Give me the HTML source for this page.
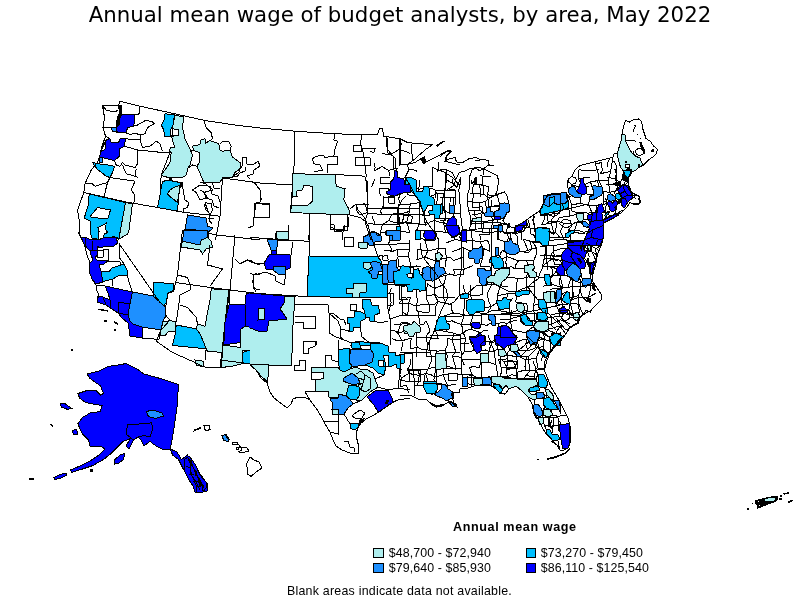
<!DOCTYPE html>
<html><head><meta charset="utf-8"><title>Annual mean wage of budget analysts, by area, May 2022</title>
<style>
html,body{margin:0;padding:0;background:#fff;}
body{width:800px;height:600px;position:relative;overflow:hidden;font-family:"Liberation Sans","DejaVu Sans",sans-serif;color:#000;}
#title{position:absolute;left:0;top:0.7px;width:800px;text-align:center;font-family:"DejaVu Sans","Liberation Sans",sans-serif;font-size:21.3px;line-height:28px;white-space:nowrap;}
#map{position:absolute;left:0;top:0;}
.lg{position:absolute;font-size:12.4px;line-height:14px;white-space:nowrap;letter-spacing:0.09px;margin-top:1px}
.sw{position:absolute;width:9px;height:8px;border:1px solid #000;}
#lt{position:absolute;left:453px;top:519.5px;letter-spacing:0.6px;font-size:12.6px;font-weight:bold;line-height:15px;white-space:nowrap;}
#note{position:absolute;left:287px;top:584px;letter-spacing:0.235px;font-size:12.4px;line-height:14px;white-space:nowrap;}
</style></head><body>
<div id="title">Annual mean wage of budget analysts, by area, May 2022</div>
<svg id="map" width="800" height="600" viewBox="0 0 800 600" shape-rendering="crispEdges" stroke-width="1" stroke-linejoin="miter">
<path fill="none" stroke="#000" d="M374.6,162.5 L375.1,167.5 L374.8,170.6 M374.8,170.6 L382.1,166.5 M374.7,179.2 L371.6,187.1 M381.6,153.2 L387.0,154.5 L392.5,153.5 M382.1,166.5 L388.6,170.5 M379.4,188.6 L390.6,189.1 M379.4,188.6 L380.3,195.9 M383.2,205.3 L380.9,210.5 L381.1,214.1 M382.3,224.5 L388.9,220.7 M382.3,224.5 L381.7,228.1 L380.0,232.3 M380.0,232.3 L392.0,231.6 M380.0,232.3 L380.7,239.8 M383.4,250.0 L389.0,250.1 L391.7,251.6 M384.1,267.7 L388.7,269.9 M392.5,153.5 L396.9,150.7 L398.9,149.7 M388.6,170.5 L393.9,168.9 L398.2,168.7 M388.6,170.5 L389.8,176.1 M390.6,189.1 L397.5,187.6 L402.5,187.2 M391.4,215.0 L395.4,213.2 L397.4,213.4 M391.4,215.0 L388.9,220.7 M388.9,220.7 L394.0,222.3 L399.9,223.0 M392.0,231.6 L395.1,232.5 L398.4,232.0 M392.0,231.6 L388.8,243.3 M388.8,243.3 L391.5,248.9 L391.7,251.6 M391.7,251.6 L397.9,249.5 M388.8,260.9 L390.1,264.1 L388.7,269.9 M388.7,269.9 L399.0,266.6 M388.7,269.9 L390.8,276.2 M391.3,288.2 L389.8,293.1 M389.8,293.1 L390.8,299.3 L391.1,302.6 M391.1,302.6 L389.0,311.2 M390.0,330.0 L394.7,330.8 L397.6,332.7 M392.3,338.9 L397.3,340.6 L402.0,340.7 M401.9,142.9 L398.9,149.7 M398.9,149.7 L405.9,151.5 L410.2,153.5 M402.5,187.2 L398.7,198.4 M398.7,198.4 L399.1,200.5 L399.0,204.3 M399.0,204.3 L410.3,204.0 M399.0,204.3 L397.4,209.1 L397.4,213.4 M397.4,213.4 L403.7,213.0 L409.4,211.5 M397.4,213.4 L399.6,218.1 L399.9,223.0 M399.9,223.0 L404.6,222.1 L406.7,221.8 M399.9,223.0 L398.4,228.2 L398.4,232.0 M398.4,232.0 L403.7,231.4 L409.9,233.0 M397.9,249.5 L409.1,249.8 M397.9,249.5 L397.7,253.8 L397.6,256.5 M397.6,256.5 L408.8,257.0 M397.6,256.5 L398.7,262.6 L399.0,266.6 M399.0,266.6 L405.7,266.1 L411.0,266.4 M400.4,277.2 L411.5,279.3 M400.4,277.2 L401.9,283.3 L401.3,286.8 M401.3,286.8 L406.5,285.8 M401.3,286.8 L401.1,297.0 M401.1,297.0 L406.9,298.1 L410.7,297.4 M401.1,297.0 L401.7,300.1 L399.4,303.1 M399.4,303.1 L405.5,303.8 L408.7,302.8 M402.5,311.2 L404.1,313.1 L407.5,315.3 M401.2,322.7 L407.5,322.4 M401.2,322.7 L397.6,332.7 M397.6,332.7 L407.1,331.1 M397.6,332.7 L402.0,340.7 M402.0,340.7 L411.4,338.1 M402.0,340.7 L402.1,346.7 L401.2,350.6 M400.0,368.7 L399.6,374.2 L401.6,377.7 M401.6,377.7 L408.9,373.5 M401.6,377.7 L400.2,381.9 L400.4,387.0 M400.4,387.0 L406.4,385.0 M408.9,170.0 L414.0,169.9 L417.3,171.4 M410.4,178.6 L409.7,184.8 M409.7,184.8 L415.5,188.2 L418.7,189.1 M409.7,184.8 L408.8,189.6 L407.2,194.7 M407.2,194.7 L414.2,195.9 L420.3,196.3 M410.3,204.0 L419.1,202.7 M410.3,204.0 L409.4,209.2 L409.4,211.5 M409.4,211.5 L406.7,221.8 M406.7,221.8 L413.8,223.9 L419.3,223.8 M406.7,221.8 L409.9,233.0 M409.9,239.9 L409.1,249.8 M409.1,249.8 L408.8,257.0 M408.8,257.0 L411.0,266.4 M411.0,266.4 L416.5,266.0 L420.5,266.8 M411.0,266.4 L412.7,273.3 L411.5,279.3 M411.5,279.3 L418.8,276.0 M411.5,279.3 L406.5,285.8 M406.5,285.8 L418.3,285.5 M410.7,297.4 L408.7,302.8 M408.7,302.8 L411.5,304.5 L416.5,306.1 M408.7,302.8 L408.8,308.1 L407.5,315.3 M407.5,322.4 L407.1,331.1 M407.1,331.1 L411.9,331.5 L417.7,329.1 M411.4,338.1 L410.3,343.2 L410.7,349.0 M410.7,349.0 L417.2,346.9 M411.0,359.1 L410.3,364.5 L407.6,369.1 M407.6,369.1 L411.9,369.8 L418.4,369.0 M407.6,369.1 L408.9,373.5 M408.9,373.5 L419.3,375.5 M406.4,385.0 L408.7,393.0 M420.0,179.6 L418.7,189.1 M418.7,189.1 L429.3,188.2 M418.7,189.1 L419.0,191.4 L420.3,196.3 M420.3,196.3 L427.8,197.4 M420.3,196.3 L419.1,202.7 M419.1,202.7 L423.2,203.3 L426.8,205.3 M419.1,202.7 L419.2,213.7 M419.2,213.7 L422.4,215.4 L424.6,215.5 M419.2,213.7 L419.3,223.8 M419.3,223.8 L425.6,225.2 M419.3,223.8 L416.9,229.7 M416.9,229.7 L422.9,230.9 L427.8,231.0 M416.9,229.7 L417.3,234.7 L420.2,239.1 M420.2,239.1 L421.8,238.6 L425.1,239.7 M417.9,249.2 L427.7,251.0 M417.9,249.2 L418.0,253.4 L416.9,260.2 M416.9,260.2 L419.5,258.9 L425.0,256.8 M418.8,276.0 L426.4,275.6 M418.8,276.0 L419.5,279.5 L418.3,285.5 M418.3,285.5 L416.8,289.6 L416.3,293.2 M416.3,293.2 L417.4,300.6 L416.5,306.1 M416.5,306.1 L423.8,304.0 L429.4,304.8 M416.5,306.1 L415.9,309.2 L418.0,311.5 M418.0,311.5 L429.0,312.9 M418.0,311.5 L420.1,324.6 M420.1,324.6 L424.0,324.1 L425.6,320.7 M420.1,324.6 L417.7,329.1 M417.7,329.1 L417.0,332.4 L416.4,337.9 M416.4,337.9 L426.0,337.5 M416.4,337.9 L416.3,341.4 L417.2,346.9 M417.2,346.9 L421.2,349.1 L427.0,349.9 M417.2,346.9 L416.0,352.4 L416.6,356.7 M418.4,369.0 L427.9,369.2 M418.4,369.0 L419.3,375.5 M419.3,375.5 L425.6,373.6 M419.3,375.5 L417.6,385.1 M429.3,188.2 L434.4,189.3 M429.3,188.2 L427.8,197.4 M427.8,197.4 L437.3,193.6 M427.8,197.4 L426.8,205.3 M426.8,205.3 L430.4,204.0 L436.9,204.4 M426.8,205.3 L424.2,211.4 L424.6,215.5 M424.6,215.5 L428.6,215.5 L435.3,213.1 M424.6,215.5 L424.6,220.7 L425.6,225.2 M425.6,225.2 L430.4,221.9 L434.3,220.4 M427.8,231.0 L430.1,231.4 L434.9,231.2 M425.1,239.7 L427.7,251.0 M427.7,251.0 L438.4,248.5 M427.7,251.0 L427.0,252.6 L425.0,256.8 M425.0,256.8 L430.6,259.4 L435.3,260.7 M427.1,268.4 L437.7,267.6 M427.1,268.4 L428.0,272.3 L426.4,275.6 M427.5,283.5 L431.1,286.7 L435.3,288.2 M427.5,283.5 L426.0,294.8 M426.0,294.8 L429.0,296.0 L434.4,294.3 M426.0,294.8 L426.3,299.0 L429.4,304.8 M429.4,304.8 L434.2,304.4 L438.1,301.6 M429.4,304.8 L429.0,312.9 M425.6,320.7 L428.9,327.0 L429.4,332.1 M429.4,332.1 L427.7,333.6 L426.0,337.5 M426.0,337.5 L438.2,338.7 M426.0,337.5 L427.5,343.9 L427.0,349.9 M427.0,349.9 L437.3,351.1 M427.0,349.9 L426.6,356.7 M426.6,356.7 L429.5,356.9 L435.2,356.8 M427.9,369.2 L433.9,367.0 L438.4,367.6 M427.9,369.2 L425.6,373.6 M425.6,373.6 L430.6,374.5 L434.8,377.1 M425.6,373.6 L427.3,379.2 L426.2,384.6 M427.9,392.4 L433.4,395.3 M438.1,162.0 L438.8,165.8 L437.2,171.6 M437.2,171.6 L440.5,169.7 L442.6,169.3 M434.4,189.3 L437.3,193.6 M437.3,193.6 L443.8,193.8 M437.3,193.6 L436.9,204.4 M436.9,204.4 L442.9,205.0 M435.3,213.1 L434.0,217.9 L434.3,220.4 M434.3,220.4 L439.8,222.3 L443.6,222.6 M434.3,220.4 L434.9,231.2 M434.9,231.2 L441.2,231.5 L445.6,232.9 M434.9,231.2 L436.7,236.5 L438.4,239.0 M438.4,239.0 L438.4,248.5 M438.4,248.5 L445.9,248.0 M438.4,248.5 L435.3,260.7 M435.3,260.7 L446.8,257.9 M433.7,276.9 L439.2,276.8 L446.2,275.4 M433.7,276.9 L434.3,283.1 L435.3,288.2 M435.3,288.2 L443.7,284.7 M435.3,288.2 L434.1,289.8 L434.4,294.3 M434.4,294.3 L438.1,297.0 L443.2,297.0 M434.4,294.3 L438.1,301.6 M438.1,301.6 L445.4,303.1 M438.1,301.6 L435.5,306.8 L435.5,314.6 M433.6,328.7 L446.6,331.8 M433.6,328.7 L436.7,332.8 L438.2,338.7 M437.3,351.1 L444.9,350.7 M437.3,351.1 L435.2,356.8 M435.2,356.8 L437.8,360.8 L438.4,367.6 M438.4,367.6 L441.6,367.7 L442.6,365.9 M438.4,367.6 L435.1,371.4 L434.8,377.1 M434.8,377.1 L439.4,376.0 L443.0,374.4 M434.8,377.1 L433.8,379.3 L435.0,383.8 M435.0,383.8 L441.7,384.8 L447.5,385.4 M447.0,189.5 L453.5,185.9 M443.8,193.8 L442.5,199.2 L442.9,205.0 M446.1,213.7 L443.6,222.6 M443.6,222.6 L448.9,224.8 L455.9,225.6 M443.6,222.6 L445.6,232.9 M445.6,232.9 L453.3,230.4 M446.3,242.8 L455.2,239.5 M445.9,248.0 L445.1,252.3 L446.8,257.9 M446.8,257.9 L450.9,258.0 L453.6,260.7 M446.8,257.9 L445.2,263.1 L445.3,267.3 M446.2,275.4 L449.1,273.9 L453.8,275.2 M446.2,275.4 L443.7,284.7 M443.7,284.7 L443.2,297.0 M443.2,297.0 L449.0,297.4 L454.7,297.1 M443.2,297.0 L445.2,301.4 L445.4,303.1 M445.4,303.1 L451.9,304.6 M444.5,315.6 L448.1,314.6 L453.3,313.0 M444.5,315.6 L443.9,316.7 L445.0,320.6 M445.0,320.6 L447.7,321.5 L452.2,320.9 M445.0,320.6 L446.6,331.8 M446.6,331.8 L454.1,333.2 M447.6,337.9 L449.7,339.0 L452.0,340.0 M447.6,337.9 L447.7,344.7 L444.9,350.7 M444.9,350.7 L447.3,355.3 L446.8,360.2 M446.8,360.2 L444.4,362.6 L442.6,365.9 M442.6,365.9 L449.1,366.7 L456.3,369.5 M442.6,365.9 L443.1,369.4 L443.0,374.4 M443.0,374.4 L453.9,373.7 M443.0,374.4 L444.5,378.8 L447.5,385.4 M447.5,385.4 L450.7,385.0 L456.2,384.4 M447.5,385.4 L447.2,393.3 M452.3,179.0 L453.5,185.9 M453.0,198.4 L453.6,201.1 L453.0,205.3 M453.3,213.6 L455.3,219.9 L455.9,225.6 M455.9,225.6 L453.3,230.4 M453.3,230.4 L455.2,239.5 M455.2,239.5 L460.9,240.7 M451.4,252.1 L463.1,247.6 M453.6,260.7 L463.7,256.8 M453.5,270.0 L464.2,269.4 M453.5,270.0 L454.4,272.2 L453.8,275.2 M453.8,275.2 L463.1,274.7 M451.9,304.6 L451.3,309.1 L453.3,313.0 M453.3,313.0 L464.2,314.6 M452.2,320.9 L455.8,322.6 L461.4,324.5 M454.1,333.2 L458.1,334.7 L463.0,333.4 M454.1,333.2 L452.0,340.0 M452.0,340.0 L465.2,338.3 M452.0,340.0 L455.6,351.4 M455.6,351.4 L453.3,354.7 L452.4,356.1 M452.4,356.1 L460.7,357.2 M452.4,356.1 L456.3,369.5 M453.9,373.7 L465.1,374.8 M461.1,231.6 L469.6,230.2 M461.1,231.6 L459.8,236.7 L460.9,240.7 M460.9,240.7 L465.8,240.9 L472.6,240.6 M463.1,247.6 L466.8,249.6 L472.1,252.1 M463.1,247.6 L463.7,256.8 M463.7,256.8 L463.3,263.6 L464.2,269.4 M464.2,269.4 L472.8,265.5 M464.2,269.4 L463.1,272.6 L463.1,274.7 M463.0,285.4 L465.3,293.1 M465.3,293.1 L470.6,295.4 M465.3,293.1 L464.5,300.5 L464.9,306.6 M464.9,306.6 L463.2,310.7 L464.2,314.6 M464.2,314.6 L461.4,324.5 M461.4,324.5 L464.6,324.4 L470.1,324.3 M461.4,324.5 L462.8,329.0 L463.0,333.4 M463.0,333.4 L465.5,330.9 L470.7,329.2 M463.0,333.4 L464.6,335.0 L465.2,338.3 M465.2,338.3 L464.5,351.2 M464.5,351.2 L469.1,352.1 L473.9,350.5 M464.5,351.2 L460.7,357.2 M460.7,357.2 L464.3,365.2 M465.1,374.8 L472.3,375.2 M464.6,383.1 L472.8,384.7 M474.6,160.4 L482.3,159.8 M473.3,184.7 L479.6,184.6 M473.3,184.7 L472.5,191.1 L473.7,194.7 M473.7,194.7 L472.4,200.4 L472.7,207.5 M472.7,207.5 L482.0,206.8 M472.4,214.9 L476.3,214.6 L482.1,212.8 M471.0,220.4 L469.6,230.2 M469.6,230.2 L482.5,232.1 M472.6,240.6 L479.8,241.7 M472.6,240.6 L472.1,252.1 M472.1,252.1 L470.1,257.6 M470.0,285.3 L470.7,291.5 L470.6,295.4 M470.6,295.4 L478.0,295.7 L483.0,294.1 M470.6,295.4 L472.5,302.5 M472.5,302.5 L479.6,306.1 M472.6,312.9 L478.2,312.3 L481.7,314.0 M472.6,312.9 L472.3,318.1 L470.1,324.3 M470.1,324.3 L481.9,324.5 M470.1,324.3 L471.7,327.5 L470.7,329.2 M470.7,329.2 L480.8,332.8 M469.9,340.7 L482.0,341.9 M469.9,340.7 L472.8,346.4 L473.9,350.5 M473.9,350.5 L476.8,349.6 L480.7,350.2 M469.5,367.8 L473.2,366.4 L479.5,367.6 M469.5,367.8 L470.8,371.2 L472.3,375.2 M472.3,375.2 L478.8,378.1 M472.8,384.7 L479.2,382.5 M479.6,175.9 L491.3,176.5 M479.6,184.6 L489.1,186.6 M479.6,184.6 L480.5,192.2 L480.1,197.3 M482.0,206.8 L482.2,209.8 L482.1,212.8 M482.1,212.8 L487.1,214.4 L489.3,213.1 M482.1,212.8 L481.3,222.7 M481.3,222.7 L482.5,232.1 M482.5,232.1 L491.8,232.6 M479.8,241.7 L482.2,241.2 L487.6,240.5 M479.8,241.7 L483.4,248.5 M483.4,248.5 L489.7,251.4 M483.4,248.5 L483.0,256.5 M483.0,256.5 L479.8,266.6 M479.8,266.6 L490.2,266.5 M482.3,279.3 L482.3,285.1 M482.3,285.1 L485.5,284.2 L491.7,284.3 M482.3,285.1 L483.0,294.1 M479.6,306.1 L485.8,307.5 L491.4,306.5 M481.7,314.0 L487.4,313.0 M481.7,314.0 L481.9,324.5 M481.9,324.5 L486.9,325.3 L490.0,323.5 M480.8,332.8 L483.4,330.6 L488.4,331.0 M480.8,332.8 L482.0,341.9 M482.0,341.9 L480.7,350.2 M480.7,350.2 L485.5,350.0 L488.8,351.3 M481.4,357.0 L479.5,367.6 M489.1,186.6 L487.5,194.7 M487.5,194.7 L492.1,195.9 L497.4,195.0 M487.5,194.7 L488.9,206.1 M488.9,206.1 L495.8,206.6 L500.1,206.8 M488.9,206.1 L487.9,210.8 L489.3,213.1 M489.3,213.1 L492.7,212.6 L497.2,212.2 M489.3,213.1 L492.0,217.6 L492.4,223.0 M492.4,223.0 L497.7,222.1 M492.4,223.0 L491.6,227.5 L491.8,232.6 M491.8,232.6 L499.1,230.2 M487.6,240.5 L489.9,246.1 L489.7,251.4 M489.2,260.1 L493.6,259.3 L496.9,261.4 M490.2,266.5 L490.2,269.4 L491.9,274.9 M491.9,274.9 L491.7,284.3 M491.7,284.3 L500.2,285.7 M491.7,284.3 L487.4,293.5 M487.4,293.5 L488.5,300.7 L491.4,306.5 M491.4,306.5 L492.9,305.6 L497.0,302.5 M491.4,306.5 L487.4,313.0 M487.4,313.0 L491.6,310.6 L498.4,310.6 M490.0,323.5 L498.5,323.5 M489.2,341.7 L499.7,339.8 M489.2,341.7 L490.4,346.3 L488.8,351.3 M488.8,351.3 L492.1,351.8 L497.1,349.5 M488.8,351.3 L488.9,356.5 M488.0,376.7 L493.8,377.5 L499.4,377.3 M497.4,195.0 L500.1,206.8 M500.1,206.8 L499.0,208.5 L497.2,212.2 M497.2,212.2 L498.7,215.9 L497.7,222.1 M497.7,222.1 L507.5,225.3 M499.1,230.2 L506.5,233.0 M499.1,230.2 L498.1,239.4 M498.1,239.4 L507.4,242.4 M501.5,251.2 L503.1,250.7 L506.0,252.5 M501.5,251.2 L499.9,255.6 L496.9,261.4 M496.9,261.4 L507.2,256.7 M496.9,267.4 L506.8,267.5 M501.5,278.5 L503.1,278.8 L505.5,276.6 M501.5,278.5 L500.2,285.7 M500.2,285.7 L507.6,287.0 M500.2,285.7 L497.4,295.7 M497.4,295.7 L507.2,293.8 M497.4,295.7 L497.0,302.5 M497.0,302.5 L502.5,302.8 L506.6,305.3 M497.0,302.5 L499.2,306.6 L498.4,310.6 M498.4,310.6 L504.8,311.5 L510.3,313.1 M498.5,323.5 L502.4,322.3 L506.5,323.6 M498.5,323.5 L500.0,331.0 M500.0,331.0 L500.5,336.1 L499.7,339.8 M499.7,339.8 L497.3,345.6 L497.1,349.5 M498.5,359.3 L502.2,360.1 L507.8,358.3 M498.5,359.3 L501.1,366.6 M501.1,366.6 L501.5,372.3 L499.4,377.3 M499.4,377.3 L507.2,376.7 M499.4,377.3 L498.6,383.6 M498.6,383.6 L502.9,386.4 L509.7,386.6 M507.5,225.3 L506.5,233.0 M506.5,233.0 L511.2,232.9 L515.3,234.0 M506.5,233.0 L508.4,236.4 L507.4,242.4 M507.4,242.4 L506.8,246.3 L506.0,252.5 M506.0,252.5 L517.9,252.0 M506.0,252.5 L507.2,256.7 M507.2,256.7 L518.5,260.8 M507.2,256.7 L505.7,261.9 L506.8,267.5 M506.8,267.5 L511.3,266.8 L515.4,269.0 M506.8,267.5 L505.5,276.6 M505.5,276.6 L517.2,278.3 M507.2,293.8 L513.6,293.1 L517.3,293.8 M507.2,293.8 L506.6,305.3 M506.6,305.3 L509.0,307.9 L510.3,313.1 M510.3,313.1 L517.0,310.7 M506.5,323.6 L510.6,321.5 L516.8,320.2 M506.5,323.6 L507.4,329.5 M507.4,329.5 L517.0,331.0 M507.4,329.5 L506.1,341.4 M506.1,341.4 L509.6,349.7 M509.6,349.7 L507.6,353.0 L507.8,358.3 M507.8,358.3 L506.6,369.4 M506.6,369.4 L507.2,376.7 M507.2,376.7 L511.9,374.7 L516.3,375.6 M509.7,386.6 L515.3,383.9 L519.4,382.8 M515.3,234.0 L520.0,232.3 L523.7,231.0 M515.3,234.0 L517.6,236.8 L517.6,242.5 M517.6,242.5 L516.5,247.8 L517.9,252.0 M517.9,252.0 L522.3,251.8 L528.2,250.6 M518.5,260.8 L526.8,260.5 M518.5,260.8 L515.7,265.0 L515.4,269.0 M515.4,269.0 L528.1,268.6 M517.2,278.3 L521.0,278.5 L526.6,277.7 M517.2,278.3 L516.7,288.0 M516.7,288.0 L517.3,293.8 M517.3,293.8 L522.1,292.5 L526.9,293.5 M517.3,293.8 L515.6,302.1 M515.6,302.1 L526.9,303.8 M517.0,310.7 L527.4,310.9 M517.0,331.0 L527.4,333.2 M517.2,341.9 L522.6,339.9 L526.8,339.3 M517.2,341.9 L514.3,345.1 L514.4,350.8 M514.4,350.8 L527.7,350.5 M514.4,350.8 L516.8,355.2 L516.8,358.3 M516.8,358.3 L517.9,368.8 M516.3,375.6 L519.4,382.8 M528.0,223.2 L523.7,231.0 M523.4,239.4 L532.5,241.8 M523.4,239.4 L528.2,250.6 M528.2,250.6 L531.1,248.8 L536.7,247.8 M526.8,260.5 L534.0,260.2 M526.8,260.5 L528.1,268.6 M528.1,268.6 L530.2,268.1 L533.3,269.9 M528.1,268.6 L526.6,277.7 M526.6,277.7 L530.1,276.1 L534.9,274.7 M526.6,277.7 L527.0,286.5 M527.0,286.5 L534.3,286.4 M527.0,286.5 L526.4,291.4 L526.9,293.5 M526.9,303.8 L527.4,310.9 M527.4,310.9 L524.3,319.6 M524.3,319.6 L530.8,320.2 L535.7,321.6 M527.4,333.2 L530.6,333.1 L534.4,332.5 M526.8,339.3 L525.8,344.5 L527.7,350.5 M527.7,350.5 L532.1,349.6 L535.3,347.9 M526.3,356.7 L525.0,366.6 M525.1,375.6 L534.1,376.6 M526.7,387.3 L537.5,386.7 M534.8,216.2 L532.8,219.6 L533.7,225.4 M536.1,229.5 L545.4,230.6 M532.5,241.8 L544.4,243.1 M532.5,241.8 L534.6,244.8 L536.7,247.8 M536.7,247.8 L536.5,253.6 L534.0,260.2 M534.0,260.2 L533.3,269.9 M534.9,274.7 L537.5,276.8 L542.3,278.0 M534.9,274.7 L534.1,281.6 L534.3,286.4 M534.3,286.4 L534.7,295.9 M534.7,295.9 L534.4,301.2 L533.2,305.5 M533.2,305.5 L536.9,304.5 L542.2,301.6 M533.2,305.5 L534.3,313.8 M534.3,313.8 L534.1,319.0 L535.7,321.6 M535.7,321.6 L542.0,322.7 M535.7,321.6 L534.1,326.0 L534.4,332.5 M534.4,332.5 L545.5,329.2 M537.3,341.5 L541.2,339.4 L544.5,339.2 M537.3,341.5 L536.5,343.6 L535.3,347.9 M535.3,347.9 L544.1,346.5 M532.7,360.5 L536.1,368.7 M536.1,368.7 L534.1,376.6 M534.1,376.6 L537.5,386.7 M537.5,386.7 L545.5,384.6 M535.5,393.0 L546.3,395.4 M535.5,393.0 L534.6,405.0 M542.7,206.3 L549.9,207.1 L554.5,206.1 M542.7,206.3 L542.9,211.3 L545.5,213.8 M545.5,213.8 L553.8,216.5 M545.5,213.8 L544.3,219.1 L541.9,224.6 M541.9,224.6 L545.4,224.2 L550.7,221.2 M545.4,230.6 L554.3,234.3 M544.4,243.1 L548.3,240.7 L553.9,240.0 M544.4,243.1 L545.2,246.6 L546.0,250.1 M546.0,250.1 L543.9,259.5 M543.9,259.5 L546.5,258.3 L550.9,258.1 M543.9,259.5 L542.4,266.4 M542.4,266.4 L551.7,266.0 M542.3,278.0 L547.6,277.5 L552.9,275.3 M543.3,286.3 L548.4,284.0 L551.6,284.1 M543.5,295.1 L548.3,294.0 L553.9,292.5 M542.2,301.6 L549.0,301.3 L554.1,302.4 M542.2,301.6 L546.6,312.3 M546.6,312.3 L550.6,315.2 M542.0,322.7 L547.8,324.3 L551.5,324.3 M542.0,322.7 L545.5,329.2 M545.5,329.2 L554.9,333.0 M545.5,329.2 L543.8,333.9 L544.5,339.2 M544.5,339.2 L547.0,340.6 L551.1,339.7 M544.5,339.2 L543.4,343.1 L544.1,346.5 M544.1,346.5 L541.6,360.6 M545.5,384.6 L546.3,395.4 M546.3,395.4 L549.8,393.0 L551.6,391.7 M546.3,395.4 L546.2,400.8 L545.7,405.4 M545.7,405.4 L544.6,408.1 L542.7,409.6 M542.7,409.6 L542.4,419.3 M554.5,206.1 L563.6,204.2 M554.5,206.1 L554.9,212.3 L553.8,216.5 M553.8,216.5 L556.7,215.1 L560.1,211.4 M553.8,216.5 L550.7,221.2 M550.7,221.2 L557.4,221.4 L563.7,223.1 M550.7,221.2 L554.3,234.3 M553.9,240.0 L564.1,239.5 M553.5,251.3 L562.4,248.1 M553.5,251.3 L551.1,254.1 L550.9,258.1 M550.9,258.1 L560.3,260.4 M551.7,266.0 L563.1,266.4 M551.7,266.0 L552.1,270.1 L552.9,275.3 M552.9,275.3 L555.2,275.6 L559.8,274.9 M551.6,284.1 L557.2,286.0 L562.6,286.0 M553.9,292.5 L558.7,291.5 L560.8,293.5 M553.9,292.5 L553.1,297.1 L554.1,302.4 M554.1,302.4 L557.2,303.8 L562.6,305.1 M550.6,315.2 L556.9,313.5 L563.6,313.4 M550.6,315.2 L551.5,320.7 L551.5,324.3 M551.5,324.3 L560.5,319.7 M551.1,339.7 L550.8,346.3 L550.9,351.2 M551.6,391.7 L553.1,398.1 L554.1,403.3 M554.1,403.3 L552.0,409.3 L551.2,413.9 M551.8,420.5 L550.5,423.8 L551.2,428.8 M563.6,204.2 L562.8,207.8 L560.1,211.4 M563.7,223.1 L572.9,224.1 M563.7,223.1 L561.8,228.6 L560.4,231.7 M560.4,231.7 L564.1,239.5 M564.1,239.5 L571.0,241.0 M562.4,248.1 L569.9,248.0 M560.3,260.4 L570.5,257.1 M560.3,260.4 L563.1,266.4 M563.1,266.4 L560.7,271.0 L559.8,274.9 M559.8,274.9 L562.6,286.0 M562.6,286.0 L561.6,290.2 L560.8,293.5 M560.8,293.5 L565.8,296.8 L572.7,297.3 M560.8,293.5 L561.3,299.9 L562.6,305.1 M562.6,305.1 L570.4,303.6 M562.6,305.1 L563.6,313.4 M563.6,313.4 L569.5,314.7 L572.8,313.1 M563.6,313.4 L560.5,319.7 M560.5,319.7 L570.5,324.3 M559.4,421.1 L561.6,425.1 L561.7,430.1 M561.7,430.1 L564.4,428.8 L568.5,428.1 M572.0,185.4 L582.4,187.1 M572.0,185.4 L568.5,196.5 M568.5,196.5 L573.8,195.5 L578.8,195.8 M568.5,196.5 L570.6,201.0 L571.4,205.1 M571.4,205.1 L580.2,203.2 M571.4,205.1 L572.1,211.9 M572.1,211.9 L578.0,212.1 M572.9,224.1 L574.7,222.8 L578.9,222.5 M572.9,224.1 L568.6,230.0 M568.6,230.0 L578.9,230.7 M568.6,230.0 L571.0,241.0 M571.0,241.0 L575.2,240.6 L577.9,241.2 M569.9,248.0 L581.8,250.6 M570.5,257.1 L580.4,259.8 M571.5,269.9 L571.7,275.1 L569.2,277.4 M569.2,277.4 L579.8,277.2 M569.2,277.4 L572.1,279.8 L572.3,284.3 M572.3,284.3 L572.4,290.5 L572.7,297.3 M572.7,297.3 L576.9,296.3 L579.0,293.7 M572.7,297.3 L571.0,300.4 L570.4,303.6 M570.4,303.6 L578.6,304.1 M570.4,303.6 L571.9,309.8 L572.8,313.1 M579.0,169.8 L590.5,170.9 M579.0,169.8 L578.4,174.3 L578.0,178.5 M578.0,178.5 L589.6,177.4 M578.0,178.5 L580.6,182.9 L582.4,187.1 M582.4,187.1 L588.8,186.8 M578.8,195.8 L580.4,198.1 L580.2,203.2 M580.2,203.2 L588.4,205.3 M578.0,212.1 L583.8,212.7 L588.4,213.1 M578.0,212.1 L578.7,218.7 L578.9,222.5 M578.9,222.5 L590.5,224.8 M578.9,230.7 L583.5,232.1 L589.0,231.7 M577.9,241.2 L587.4,240.0 M577.9,241.2 L579.1,245.9 L581.8,250.6 M581.8,250.6 L585.5,250.2 L587.2,250.4 M581.8,250.6 L580.4,259.8 M579.8,277.2 L580.6,285.8 M580.6,285.8 L579.0,293.7 M579.0,293.7 L578.6,304.1 M578.6,304.1 L579.4,313.4 M590.5,170.9 L598.7,169.5 M590.2,194.9 L597.5,197.5 M590.2,194.9 L588.4,205.3 M588.4,205.3 L592.4,205.0 L597.0,206.0 M588.4,213.1 L591.4,212.4 L595.4,213.0 M588.4,213.1 L590.5,224.8 M590.5,224.8 L596.4,225.5 L599.8,223.4 M590.5,224.8 L589.0,231.7 M589.0,231.7 L593.2,229.9 L598.9,230.4 M589.0,231.7 L587.4,240.0 M587.4,240.0 L587.2,250.4 M587.2,250.4 L589.4,256.9 M591.2,267.1 L590.8,278.8 M590.8,278.8 L591.1,281.0 L591.4,284.5 M591.4,284.5 L588.6,297.1 M588.6,297.1 L595.9,293.3 M588.6,297.1 L586.5,301.6 M597.2,180.6 L598.7,184.6 M598.7,184.6 L598.2,191.2 L597.5,197.5 M597.0,206.0 L606.2,203.7 M597.0,206.0 L595.4,213.0 M595.4,213.0 L599.1,213.1 L605.4,212.9 M595.4,213.0 L596.2,218.2 L599.8,223.4 M599.8,223.4 L598.9,230.4 M598.9,230.4 L597.5,234.9 L598.0,241.3 M609.5,158.9 L607.8,162.5 L607.3,167.0 M607.2,177.4 L615.5,178.8 M606.5,184.7 L612.5,184.2 L617.0,185.7 M605.0,197.7 L606.8,202.0 L606.2,203.7 M606.2,203.7 L605.4,212.9 M605.4,212.9 L611.0,215.9 L614.0,216.1 M613.6,160.9 L616.6,165.8 L616.9,168.2 M616.9,168.2 L615.5,178.8 M615.5,178.8 L617.0,185.7 M617.0,185.7 L623.6,185.7 M617.8,195.2 L622.3,196.1 L625.1,195.7 M616.7,203.3 L622.7,202.4 L627.3,204.2 M616.7,203.3 L616.2,209.7 L614.0,216.1 M625.2,140.7 L629.0,140.4 L635.7,141.1 M624.5,158.4 L625.4,163.4 L624.0,167.1 M624.0,167.1 L625.7,172.1 L626.1,178.9 M626.1,178.9 L623.6,185.7 M625.1,195.7 L636.1,198.3 M625.1,195.7 L625.3,198.8 L627.3,204.2 M635.7,125.3 L633.1,131.4 M633.3,151.3 L633.3,161.7"/>
<polygon fill="#000000" stroke="none" points="118.0,105.0 122.0,104.5 122.5,115.0 119.5,125.0 115.5,126.2 117.0,117.5 119.0,112.5"/>
<polygon fill="#0000FF" stroke="#000" points="121.2,115.0 135.0,114.5 133.8,126.2 127.5,127.5 126.2,133.0 117.0,132.5 116.2,127.5 120.0,123.8 119.0,119.5"/>
<polygon fill="#1E90FF" stroke="#000" points="111.2,127.5 116.2,127.5 117.0,131.5 112.5,131.5"/>
<polygon fill="#0000FF" stroke="#000" points="106.2,139.5 110.0,138.8 111.2,142.5 118.8,142.0 120.0,138.8 125.5,138.8 124.5,146.2 119.5,148.8 119.5,156.2 114.5,160.5 99.5,157.0 101.2,151.2 105.0,149.5"/>
<polygon fill="#1E90FF" stroke="#000" points="99.5,157.0 103.0,157.5 102.5,162.5 99.0,162.0"/>
<polygon fill="#00BFFF" stroke="#000" points="92.5,162.5 100.0,163.8 102.0,165.0 105.0,164.5 114.5,166.2 112.5,172.5 110.0,177.5 106.2,176.2 97.5,169.5 95.0,166.2"/>
<polygon fill="#00BFFF" stroke="#000" points="165.0,113.8 174.5,115.0 173.0,125.0 170.5,130.0 170.0,136.8 164.5,136.2 163.8,130.0 161.2,125.0 163.8,121.2"/>
<polygon fill="#AFEEEE" stroke="#000" points="175.0,115.0 183.8,117.0 182.5,127.5 185.0,138.8 190.0,148.8 192.5,155.5 190.0,165.0 188.0,168.0 186.2,175.0 182.5,177.5 170.0,178.0 161.2,175.5 170.0,162.5 171.2,152.5 169.2,151.2 170.5,148.0 174.5,147.0 171.8,137.5 173.0,125.0"/>
<polygon fill="#FFFFFF" stroke="#000" points="172.5,128.8 178.0,129.5 178.8,135.0 172.5,136.2"/>
<polygon fill="#AFEEEE" stroke="#000" points="192.5,146.2 200.0,144.5 201.2,139.5 205.0,138.8 205.8,143.0 210.0,140.5 218.8,143.8 220.0,150.0 222.5,151.2 230.0,150.0 232.5,157.0 240.0,162.5 241.2,168.0 235.0,172.5 232.5,177.5 222.5,178.0 220.0,182.0 203.8,182.5 201.2,176.2 197.0,166.2 200.0,161.2 199.5,152.5 193.8,150.5"/>
<polygon fill="#00BFFF" stroke="#000" points="162.5,181.2 170.0,180.5 177.5,182.0 182.5,183.0 182.0,186.2 179.5,188.0 177.5,211.2 157.5,207.5 160.0,195.0"/>
<polygon fill="#AFEEEE" stroke="#000" points="175.0,187.0 180.0,185.5 178.8,195.0 177.5,202.5 171.2,197.5 167.5,193.8 170.0,190.0"/>
<polygon fill="#000000" stroke="none" points="169.0,177.5 171.5,177.0 172.0,180.5 169.5,181.0"/>
<polygon fill="#000000" stroke="none" points="179.5,182.0 182.5,181.5 183.0,186.5 180.5,187.0"/>
<polygon fill="#00BFFF" stroke="#000" points="89.2,193.8 125.5,202.5 118.8,239.2 117.5,238.0 113.8,236.8 107.5,237.5 101.2,240.0 97.5,239.2 91.8,238.0 90.0,231.2 90.5,221.2 84.2,218.0 88.0,206.2"/>
<polygon fill="#FFFFFF" stroke="#000" points="90.0,216.8 97.5,207.5 110.5,210.0 108.0,218.0 101.2,218.5"/>
<polygon fill="#FFFFFF" stroke="#000" points="98.0,227.5 102.5,225.5 106.2,223.0 105.5,228.8 107.5,232.5 104.2,234.2 103.0,239.2 98.8,240.0 98.0,233.8 99.2,231.2"/>
<polygon fill="#AFEEEE" stroke="#000" points="125.5,202.5 132.5,203.8 128.8,231.2 127.5,234.2 118.8,239.2"/>
<polygon fill="#1E90FF" stroke="#000" points="187.5,215.0 206.2,218.0 207.5,226.2 213.0,228.0 208.0,232.5 208.0,240.0 183.8,240.0 185.0,230.0"/>
<polygon fill="#000000" stroke="none" points="435.8,145.5 443.2,140.5 444.5,141.5 437.0,147.0"/>
<polygon fill="#000000" stroke="none" points="420.0,158.8 425.0,156.2 426.0,162.5 423.8,164.5"/>
<polygon fill="#AFEEEE" stroke="#000" points="292.5,173.8 335.0,174.5 336.2,186.2 345.0,188.8 343.8,200.0 348.8,208.8 350.0,215.0 290.5,212.5 291.5,205.5 307.5,205.5 312.5,201.2 312.0,186.2 303.8,185.5 302.5,190.0 296.2,191.2 297.0,196.2 292.5,197.0"/>
<polygon fill="#0000FF" stroke="#000" points="395.0,170.5 397.0,171.2 397.5,177.5 403.8,178.8 405.0,184.5 410.0,185.0 410.0,192.5 404.5,192.5 400.0,193.8 395.0,196.2 387.5,194.5 386.2,192.0 390.0,190.0 390.0,182.5 393.8,178.8"/>
<polygon fill="#00BFFF" stroke="#000" points="406.2,178.0 411.2,177.5 416.2,180.0 416.2,191.2 422.5,192.0 423.8,186.2 428.8,186.2 430.0,196.2 433.8,197.5 435.0,205.0 442.5,203.8 443.8,210.0 440.0,215.0 439.5,218.8 435.0,218.8 434.5,215.0 430.0,214.5 428.0,211.2 432.5,210.0 432.5,205.5 428.0,205.0 426.2,208.8 423.8,212.5 421.2,207.5 420.0,201.2 415.0,195.0 411.2,191.2 410.0,185.0 405.0,183.8"/>
<polygon fill="#1E90FF" stroke="#000" points="449.5,205.0 454.5,205.0 454.5,213.8 449.5,213.8"/>
<polygon fill="#0000FF" stroke="#000" points="448.5,219.5 453.0,216.5 456.0,218.8 456.8,224.8 459.8,228.5 459.8,233.8 456.0,236.8 451.5,237.5 450.0,232.2 445.5,226.2"/>
<polygon fill="#0000FF" stroke="#000" points="426.2,232.5 431.2,230.5 436.2,233.8 435.0,240.0 425.0,240.0"/>
<polygon fill="#1E90FF" stroke="#000" points="385.0,231.2 395.0,230.5 397.5,235.0 396.2,240.0 390.0,240.0 388.8,235.0 385.0,234.5"/>
<polygon fill="#1E90FF" stroke="#000" points="367.5,235.0 372.5,231.2 376.2,232.5 380.0,235.0 380.0,240.0 363.8,240.0"/>
<polygon fill="#00BFFF" stroke="#000" points="396.2,226.2 399.5,226.2 399.5,230.0 396.2,230.0"/>
<polygon fill="#00BFFF" stroke="#000" points="416.2,230.0 420.0,230.0 418.8,237.5 415.5,237.5"/>
<polygon fill="#AFEEEE" stroke="#000" points="276.2,231.2 287.5,232.5 286.2,240.0 275.0,240.0"/>
<polygon fill="#000000" stroke="none" points="488.7,164.4 494.3,165.0 494.3,166.5 488.7,165.9"/>
<polygon fill="#000000" stroke="none" points="474.2,177.7 477.2,176.2 476.6,183.7 474.8,185.2 473.3,182.2"/>
<polygon fill="#000000" stroke="none" points="470.7,180.7 472.2,180.0 472.7,183.7 471.2,184.2"/>
<polygon fill="#000000" stroke="none" points="507.2,210.0 510.2,209.7 510.2,212.2 507.2,212.2"/>
<polygon fill="#000000" stroke="none" points="507.8,223.5 510.2,223.2 510.5,228.0 508.2,228.0"/>
<polygon fill="#1E90FF" stroke="#000" points="500.0,204.0 504.5,202.8 509.3,204.0 509.7,211.5 506.7,212.7 504.5,217.5 500.7,219.0 500.0,216.0 494.0,216.0 494.0,211.5 499.2,210.0"/>
<polygon fill="#1E90FF" stroke="#000" points="486.5,207.7 490.2,207.0 491.0,211.5 493.2,212.2 493.2,216.0 485.0,216.0 484.2,213.7 486.5,212.2"/>
<polygon fill="#0000FF" stroke="#000" points="494.3,216.0 500.0,216.0 500.0,219.3 494.3,219.3"/>
<polygon fill="#AFEEEE" stroke="#000" points="472.2,218.2 481.2,217.8 481.7,221.7 472.7,222.0"/>
<polygon fill="#1E90FF" stroke="#000" points="493.2,225.7 497.7,225.0 501.8,224.7 502.7,231.7 500.0,232.2 497.7,228.7 493.2,228.0"/>
<polygon fill="#0000FF" stroke="#000" points="514.7,227.2 521.0,223.5 526.2,220.5 527.0,225.0 521.7,227.2 521.0,231.7 515.0,232.2"/>
<polygon fill="#00BFFF" stroke="#000" points="537.5,228.0 540.5,227.2 542.7,229.5 546.8,228.7 545.7,235.5 549.5,237.0 548.7,240.0 535.2,240.0 534.8,235.5"/>
<polygon fill="#00BFFF" stroke="#000" points="539.0,211.5 543.5,205.5 547.2,207.7 551.0,206.2 560.0,204.7 560.0,209.2 548.7,212.2 542.0,215.2"/>
<polygon fill="#1E90FF" stroke="#000" points="544.2,196.5 548.0,194.7 554.0,193.5 560.0,193.8 560.0,204.7 551.0,206.2 547.2,207.7 545.0,204.7 545.7,201.0"/>
<polygon fill="#00BFFF" stroke="#000" points="550.2,195.7 555.5,195.0 556.2,202.5 560.0,204.3 560.0,195.0 557.0,194.7 551.7,197.7 551.0,204.0 550.2,201.0"/>
<polygon fill="#00BFFF" stroke="#000" points="440.0,204.0 442.2,204.7 442.7,213.0 440.0,213.7"/>
<polygon fill="#1E90FF" stroke="#000" points="449.7,205.5 454.2,205.2 454.2,213.0 449.3,213.7"/>
<polygon fill="#0000FF" stroke="#000" points="461.0,230.2 466.2,229.5 466.2,240.0 461.0,240.0"/>
<polygon fill="#AFEEEE" stroke="#000" points="622.0,134.0 625.0,134.7 625.7,141.5 629.5,149.0 631.7,152.7 636.2,156.5 640.0,158.0 641.5,162.5 643.0,164.7 638.5,167.7 636.2,170.0 632.5,171.5 631.0,169.2 628.0,168.5 626.5,170.0 623.5,171.5 620.5,167.0 618.2,159.5 617.5,152.7 619.0,147.5 621.2,140.0"/>
<polygon fill="#FFFFFF" stroke="#000" points="625.7,164.7 629.5,164.7 629.5,167.7 625.7,167.7"/>
<polygon fill="#00BFFF" stroke="#000" points="624.2,170.7 628.0,169.2 631.0,170.0 631.0,173.7 628.0,176.7 625.0,176.0 623.5,173.0"/>
<polygon fill="#FFFFFF" stroke="#000" points="635.5,150.5 638.5,148.2 643.0,149.7 643.7,153.5 640.0,155.7 636.2,154.2"/>
<polygon fill="#000000" stroke="none" points="639.4,142.2 641.8,141.8 642.7,146.0 644.8,149.3 645.4,153.8 643.3,154.4 642.4,150.2 640.6,147.5"/>
<polygon fill="#000000" stroke="none" points="637.7,164.7 640.0,163.7 640.6,166.7 638.5,167.6"/>
<polygon fill="#000000" stroke="none" points="625.0,161.0 626.8,160.7 627.1,162.8 625.3,163.1"/>
<polygon fill="#00BFFF" stroke="#000" points="550.0,194.7 559.0,195.2 559.0,200.0 550.0,200.0"/>
<polygon fill="#1E90FF" stroke="#000" points="559.0,195.5 566.5,194.0 567.2,200.0 559.0,200.0"/>
<polygon fill="#000000" stroke="none" points="614.5,169.7 616.9,170.0 616.9,173.0 614.8,172.7"/>
<polygon fill="#000000" stroke="none" points="613.0,183.2 620.5,182.9 620.5,185.0 613.0,185.0"/>
<polygon fill="#000000" stroke="none" points="621.7,173.7 624.4,174.5 625.0,180.5 622.6,180.5"/>
<polygon fill="#000000" stroke="none" points="634.0,125.0 634.9,125.0 634.9,125.9 634.0,125.9"/>
<polygon fill="#000000" stroke="none" points="636.2,129.5 637.1,129.5 637.1,130.4 636.2,130.4"/>
<polygon fill="#000000" stroke="none" points="637.0,134.0 637.9,134.0 637.9,134.9 637.0,134.9"/>
<polygon fill="#000000" stroke="none" points="640.0,137.7 640.9,137.7 640.9,138.6 640.0,138.6"/>
<polygon fill="#000000" stroke="none" points="650.8,149.7 653.5,149.3 653.5,152.0 651.1,152.3"/>
<polygon fill="#0000FF" stroke="#000" points="567.7,243.0 577.5,241.5 584.2,240.0 586.5,243.0 585.0,247.5 582.0,250.5 580.5,255.0 583.5,258.0 583.5,264.0 579.0,265.5 576.0,270.0 559.5,270.0 562.5,264.0 561.7,256.5 564.0,252.0 567.0,249.0"/>
<polygon fill="#AFEEEE" stroke="#000" points="588.0,245.2 591.0,245.2 591.3,250.5 588.3,250.5"/>
<polygon fill="#00BFFF" stroke="#000" points="540.0,228.0 546.7,227.2 547.5,231.7 546.0,235.5 549.0,237.7 548.2,244.5 543.7,246.0 540.0,240.0"/>
<polygon fill="#00BFFF" stroke="#000" points="540.0,210.0 543.0,204.0 549.0,207.0 553.5,202.5 558.0,204.7 565.5,204.0 567.7,201.0 568.5,206.2 567.0,209.2 541.5,214.5 540.0,215.2"/>
<polygon fill="#1E90FF" stroke="#000" points="543.0,195.7 567.0,193.5 567.7,201.0 565.5,204.0 558.0,204.7 553.5,202.5 549.0,207.0 543.0,204.0"/>
<polygon fill="#00BFFF" stroke="#000" points="549.3,197.7 554.2,196.8 554.7,203.7 553.5,202.5 549.3,206.7"/>
<polygon fill="#000000" stroke="none" points="567.7,243.7 570.0,243.0 572.2,250.5 576.0,255.0 574.5,258.0 570.7,252.0"/>
<polygon fill="#000000" stroke="none" points="582.0,247.5 583.8,246.7 585.0,255.0 582.7,255.0"/>
<polygon fill="#000000" stroke="none" points="586.5,258.0 588.3,257.7 590.2,264.0 588.0,264.7"/>
<polygon fill="#000000" stroke="none" points="578.2,258.0 581.2,257.2 582.7,264.0 579.7,264.7"/>
<polygon fill="#00BFFF" stroke="#000" points="176.2,325.0 196.2,328.8 200.0,333.8 203.8,342.5 206.2,348.8 172.5,345.5 175.0,335.0"/>
<polygon fill="#AFEEEE" stroke="#000" points="211.2,288.8 228.8,290.0 225.0,322.5 223.8,345.0 240.0,347.5 240.0,330.0 245.0,326.2 260.0,328.8 260.0,340.0 253.8,340.0 253.8,350.0 242.5,350.0 242.0,363.8 232.5,366.2 221.2,367.5 222.5,352.5 207.5,351.2 206.2,348.8 203.8,342.5 200.0,333.8 196.2,328.8 197.5,323.8 205.0,326.2 207.5,312.5 210.0,300.0"/>
<polygon fill="#AFEEEE" stroke="#000" points="195.0,360.0 203.8,361.2 203.8,367.0 196.2,365.0"/>
<polygon fill="#0000FF" stroke="#000" points="228.8,305.0 245.0,304.5 246.2,293.8 260.0,294.5 260.0,328.8 245.0,326.2 240.0,330.0 240.0,342.5 223.8,345.0 225.0,322.5"/>
<polygon fill="#00BFFF" stroke="#000" points="242.0,352.5 252.5,349.5 252.5,363.8 242.0,363.8"/>
<polygon fill="#1E90FF" stroke="#000" points="183.8,230.0 207.5,230.0 207.5,237.5 201.2,240.0 200.0,245.0 182.5,241.2"/>
<polygon fill="#AFEEEE" stroke="#000" points="182.5,241.2 200.0,245.0 201.2,240.0 207.5,237.5 211.2,241.2 212.5,247.5 206.2,248.8 202.5,253.8 200.0,250.0 181.2,247.0"/>
<polygon fill="#000000" stroke="none" points="97.5,308.5 107.5,310.0 107.5,311.5 97.5,310.0"/>
<polygon fill="#000000" stroke="none" points="113.8,321.2 118.0,323.0 117.5,325.0 113.5,323.0"/>
<polygon fill="#000000" stroke="none" points="104.0,320.0 106.5,320.0 106.5,322.0 104.0,322.0"/>
<polygon fill="#000000" stroke="none" points="70.5,349.0 72.5,349.0 72.5,351.0 70.5,351.0"/>
<polygon fill="#000000" stroke="none" points="113.8,328.8 116.2,328.8 116.2,331.2 113.8,331.2"/>
<polygon fill="#0000FF" stroke="#000" points="81.0,238.0 86.0,237.0 90.0,240.0 93.0,239.0 98.0,240.0 103.0,238.0 110.0,237.0 116.0,238.0 118.0,243.0 114.0,246.0 106.0,246.0 100.0,248.0 97.0,246.0 97.0,250.0 92.0,250.0 90.0,251.0 88.0,249.0 84.0,244.0"/>
<polygon fill="#0000FF" stroke="#000" points="90.0,251.0 97.0,250.0 97.0,255.0 95.0,258.0 98.0,261.0 103.0,260.0 108.0,261.0 104.0,264.0 99.0,265.0 101.0,271.0 102.0,277.0 103.0,282.0 96.0,284.0 92.0,279.0 89.0,271.0 90.0,263.0 93.0,260.0 91.0,255.0"/>
<polygon fill="#FFFFFF" stroke="#000" points="97.4,250.4 103.0,250.0 103.0,257.0 98.0,258.0"/>
<polygon fill="#00BFFF" stroke="#000" points="101.0,271.0 109.0,272.0 112.0,268.0 121.0,265.0 124.0,264.0 127.0,270.0 127.0,275.0 118.0,276.0 113.0,279.0 105.0,281.0 103.0,282.0"/>
<polygon fill="#0000FF" stroke="#000" points="105.0,286.0 132.4,292.0 130.0,304.0 128.0,315.0 130.0,321.0 133.0,324.0 142.0,327.0 142.0,338.0 130.0,336.0 129.0,329.0 128.0,323.0 122.0,318.0 118.0,313.0 112.0,309.0 106.0,305.0 97.0,302.0 98.0,296.0 103.0,297.0 110.0,300.0 108.0,293.0"/>
<polygon fill="#1E90FF" stroke="#000" points="132.4,292.0 153.0,296.0 160.0,302.0 165.0,307.0 166.0,316.0 163.0,321.0 161.0,330.0 142.0,327.0 133.0,324.0 130.0,321.0 128.0,315.0 130.0,304.0"/>
<polygon fill="#00BFFF" stroke="#000" points="154.0,282.0 174.0,284.0 173.6,290.0 168.0,293.0 166.4,302.0 164.0,306.0 160.0,302.0 153.0,296.0"/>
<polygon fill="#AFEEEE" stroke="#000" points="163.0,322.0 170.0,320.6 176.0,322.0 175.0,331.0 168.0,332.0 165.0,336.0 159.0,335.0 161.0,330.0"/>
<polygon fill="#00BFFF" stroke="#000" points="309.0,256.0 378.0,257.0 381.0,261.0 382.0,265.0 383.0,284.0 388.0,284.0 387.0,298.0 307.0,296.6 308.0,275.0"/>
<polygon fill="#AFEEEE" stroke="#000" points="363.0,263.0 370.0,262.0 372.0,267.0 368.0,270.0 364.0,268.0"/>
<polygon fill="#1E90FF" stroke="#000" points="370.0,263.0 374.0,261.0 380.0,263.0 382.0,269.0 382.0,275.0 378.0,274.6 377.0,278.0 372.0,278.0 371.0,274.0 368.0,272.0 372.0,270.0 372.0,267.0"/>
<polygon fill="#FFFFFF" stroke="#000" points="378.0,271.0 382.0,271.0 382.0,274.6 378.0,274.6"/>
<polygon fill="#AFEEEE" stroke="#000" points="346.0,289.0 353.0,288.6 354.0,283.4 366.0,283.0 366.4,292.0 360.0,293.0 359.6,297.4 353.0,297.4 352.4,293.0 346.0,293.0"/>
<polygon fill="#0000FF" stroke="#000" points="269.0,255.0 276.0,254.0 290.0,255.0 290.0,268.0 286.0,270.0 285.0,274.0 278.0,274.0 273.0,270.0 266.0,269.0 264.0,263.0"/>
<polygon fill="#1E90FF" stroke="#000" points="273.0,266.0 285.0,266.0 286.0,270.0 285.0,274.0 278.0,274.0 273.0,270.0"/>
<polygon fill="#0000FF" stroke="#000" points="271.0,250.0 276.0,250.0 276.0,254.0 271.0,254.0"/>
<polygon fill="#1E90FF" stroke="#000" points="267.0,239.0 278.0,240.0 277.0,247.0 276.0,250.0 271.0,250.0"/>
<polygon fill="#AFEEEE" stroke="#000" points="276.0,231.0 288.0,232.0 288.0,240.0 278.0,240.0 276.0,237.0"/>
<polygon fill="#0000FF" stroke="none" points="249.4,293.0 284.0,296.0 284.0,303.0 280.0,309.0 283.0,313.0 287.0,319.0 269.0,321.0 267.0,331.0 258.0,331.0 249.4,328.0"/>
<polygon fill="#AFEEEE" stroke="#000" points="259.0,308.0 264.0,308.0 265.0,319.0 258.0,320.0"/>
<polygon fill="#AFEEEE" stroke="none" points="284.0,296.0 295.0,296.6 293.0,325.0 292.0,346.0 249.4,346.0 249.4,328.0 258.0,331.0 267.0,331.0 269.0,321.0 287.0,319.0 283.0,313.0 280.0,309.0 284.0,303.0"/>
<polygon fill="#00BFFF" stroke="#000" points="362.0,300.0 370.0,299.0 372.0,305.0 378.0,305.0 380.0,313.0 375.0,315.0 374.0,321.0 370.0,321.0 369.0,317.0 365.0,317.0 364.0,310.0 362.0,307.0"/>
<polygon fill="#00BFFF" stroke="#000" points="347.0,318.0 354.0,317.0 354.0,311.0 359.0,311.0 365.0,314.0 365.0,319.0 361.0,321.0 360.0,327.0 354.0,327.0 353.0,331.0 349.0,331.0 350.0,323.0 347.0,323.0"/>
<polygon fill="#00BFFF" stroke="#000" points="352.0,343.0 358.0,341.0 370.0,343.0 378.0,342.0 384.0,345.0 351.0,345.0"/>
<polygon fill="#AFEEEE" stroke="#000" points="404.0,326.0 410.0,325.0 410.0,333.0 405.0,334.0 403.0,330.0"/>
<polygon fill="#1E90FF" stroke="#000" points="363.0,237.0 368.0,235.0 371.0,233.0 376.0,232.0 377.0,235.0 381.0,236.0 381.0,241.0 375.0,242.0 374.0,245.0 369.0,245.0 367.0,242.0 363.0,242.0"/>
<polygon fill="#AFEEEE" stroke="#000" points="358.0,243.0 367.0,242.6 367.0,248.0 362.0,249.0 358.0,247.0"/>
<polygon fill="#1E90FF" stroke="#000" points="386.0,231.0 393.0,230.0 400.0,231.0 400.0,240.0 393.0,240.6 392.0,235.0 386.0,235.0"/>
<polygon fill="#00BFFF" stroke="#000" points="396.0,226.0 400.0,226.0 400.0,230.0 396.0,230.0"/>
<polygon fill="#00BFFF" stroke="#000" points="415.0,230.0 420.0,230.0 420.0,239.0 415.0,239.0"/>
<polygon fill="#0000FF" stroke="#000" points="425.0,231.0 433.0,230.6 436.0,235.0 434.0,239.0 426.0,239.0 423.0,236.0"/>
<polygon fill="#0000FF" stroke="#000" points="445.0,225.0 458.0,225.0 460.0,233.0 454.0,237.0 449.0,234.0"/>
<polygon fill="#0000FF" stroke="#000" points="461.0,230.0 466.0,230.0 466.0,242.0 461.0,241.0"/>
<polygon fill="#1E90FF" stroke="#000" points="468.0,253.0 473.0,249.0 479.0,248.0 482.0,246.0 483.0,258.0 480.0,259.0 479.0,263.0 475.0,263.0 474.0,259.0 469.0,258.0"/>
<polygon fill="#1E90FF" stroke="#000" points="477.0,269.0 484.0,268.0 486.0,271.0 491.0,270.0 491.0,275.0 486.0,279.0 487.0,285.0 483.0,286.0 479.0,282.0 480.0,278.0 477.0,275.0"/>
<polygon fill="#00BFFF" stroke="#000" points="491.0,257.0 496.0,256.0 498.0,258.0 500.0,256.0 503.0,261.0 504.0,267.0 498.0,269.0 494.0,268.0 492.0,263.0 489.0,262.0"/>
<polygon fill="#1E90FF" stroke="#000" points="495.0,247.0 498.0,247.0 498.4,255.0 495.0,255.0"/>
<polygon fill="#AFEEEE" stroke="#000" points="486.0,279.0 491.0,275.0 494.0,276.0 496.0,271.0 502.0,268.0 509.0,268.0 510.0,273.0 506.0,279.0 502.0,282.0 500.0,287.0 496.0,285.0 492.0,282.0 488.0,283.0"/>
<polygon fill="#1E90FF" stroke="#000" points="504.0,242.0 509.0,241.0 510.0,238.0 513.0,243.0 518.0,245.0 520.0,251.0 515.0,255.0 509.0,254.0 504.0,251.0"/>
<polygon fill="#00BFFF" stroke="#000" points="536.0,229.0 540.0,227.0 544.0,229.0 549.0,228.0 550.0,237.0 548.0,245.0 543.0,246.0 540.0,242.0 536.0,241.0 535.0,235.0"/>
<polygon fill="#0000FF" stroke="#000" points="515.0,225.0 524.0,225.0 522.0,230.0 516.0,232.0"/>
<polygon fill="#1E90FF" stroke="#000" points="498.0,225.0 503.0,225.0 502.0,232.0 499.0,231.0"/>
<polygon fill="#AFEEEE" stroke="#000" points="524.0,266.0 533.0,264.0 535.0,268.0 532.0,270.0 537.0,273.0 536.0,277.0 530.0,278.0 528.0,273.0 524.0,272.0"/>
<polygon fill="#00BFFF" stroke="#000" points="544.0,275.0 549.0,274.0 551.0,279.0 550.0,285.0 547.0,286.0 545.0,281.0"/>
<polygon fill="#0000FF" stroke="#000" points="557.0,267.0 560.0,266.0 560.0,275.0 557.0,274.0"/>
<polygon fill="#00BFFF" stroke="#000" points="516.0,292.0 526.0,290.0 530.0,291.0 529.0,294.0 522.0,295.0 518.0,297.0 515.0,295.0"/>
<polygon fill="#00BFFF" stroke="#000" points="496.0,301.0 502.0,300.0 504.0,297.0 509.0,300.0 512.0,299.0 509.0,304.0 509.0,308.0 500.0,310.0 498.0,306.0"/>
<polygon fill="#AFEEEE" stroke="#000" points="517.0,304.0 523.0,303.0 525.0,309.0 522.0,313.0 518.0,311.0 516.0,307.0"/>
<polygon fill="#00BFFF" stroke="#000" points="466.0,301.0 470.0,299.0 482.0,299.0 485.0,302.0 484.0,311.0 476.0,312.0 473.0,315.0 469.0,314.0 466.0,309.0"/>
<polygon fill="#00BFFF" stroke="#000" points="460.0,295.0 465.0,293.0 468.0,293.0 468.0,298.0 460.0,299.0"/>
<polygon fill="#AFEEEE" stroke="#000" points="543.0,293.0 550.0,291.0 555.0,292.0 555.0,301.0 549.0,303.0 544.0,302.0"/>
<polygon fill="#00BFFF" stroke="#000" points="538.0,300.0 544.0,299.0 546.0,303.0 548.0,313.0 544.0,315.0 541.0,309.0 538.0,307.0"/>
<polygon fill="#00BFFF" stroke="#000" points="520.0,315.0 524.0,313.0 528.0,317.0 532.0,323.0 528.0,326.0 523.0,324.0 520.0,320.0"/>
<polygon fill="#00BFFF" stroke="#000" points="536.0,314.0 541.0,313.0 547.0,316.0 547.0,320.0 540.0,321.0 536.0,319.0"/>
<polygon fill="#AFEEEE" stroke="#000" points="536.0,323.0 542.0,321.0 548.0,323.0 548.0,331.0 542.0,333.0 537.0,331.0 534.0,328.0"/>
<polygon fill="#1E90FF" stroke="#000" points="531.0,330.0 536.0,332.0 540.0,337.0 538.0,340.0 533.0,338.0 530.0,334.0"/>
<polygon fill="#0000FF" stroke="#000" points="498.0,327.0 504.0,325.0 509.0,327.0 513.0,333.0 516.0,338.0 515.0,345.0 496.0,345.0 494.0,339.0 497.0,334.0"/>
<polygon fill="#1E90FF" stroke="#000" points="489.0,315.0 494.0,314.0 496.0,319.0 495.6,325.0 492.0,325.0 491.0,321.0 488.0,319.0"/>
<polygon fill="#0000FF" stroke="#000" points="472.0,323.0 479.0,322.0 481.0,326.0 479.0,329.0 474.0,328.0 471.0,326.0"/>
<polygon fill="#0000FF" stroke="#000" points="469.0,337.0 476.0,336.0 480.0,333.0 483.0,336.0 486.0,337.0 485.0,345.0 475.0,345.0 472.0,341.0"/>
<polygon fill="#00BFFF" stroke="#000" points="437.0,320.0 441.0,316.0 445.0,317.0 447.0,323.0 450.0,325.0 449.0,329.0 439.0,330.0 435.0,331.0 436.0,325.0"/>
<polygon fill="#AFEEEE" stroke="#000" points="404.0,326.0 412.0,324.0 414.0,321.0 417.0,324.0 421.0,328.0 420.0,332.0 415.0,333.0 413.0,337.0 409.0,336.0 407.0,332.0 403.0,330.0"/>
<polygon fill="#00BFFF" stroke="#000" points="551.0,334.0 560.0,333.0 560.0,345.0 554.0,345.0 553.0,340.0"/>
<polygon fill="#1E90FF" stroke="#000" points="526.0,333.0 530.0,334.0 533.0,338.0 538.0,340.0 536.0,345.0 530.0,343.0"/>
<polygon fill="#0000FF" stroke="#000" points="567.2,241.5 580.0,240.7 587.5,240.0 586.0,244.5 584.5,249.0 586.7,252.0 585.2,256.5 583.7,259.5 586.0,264.0 584.5,268.5 580.0,269.2 576.2,264.0 574.0,262.5 571.0,262.5 566.5,261.7 562.0,259.5 561.2,255.0 564.2,250.5 568.0,247.5"/>
<polygon fill="#0000FF" stroke="#000" points="556.7,268.5 561.2,264.0 565.0,269.2 564.2,275.2 560.5,276.0 556.0,271.5"/>
<polygon fill="#1E90FF" stroke="#000" points="566.5,270.0 572.5,263.2 576.2,264.7 580.0,269.2 581.5,274.5 579.2,277.5 577.7,282.0 574.0,280.5 571.0,277.5 567.2,276.0"/>
<polygon fill="#1E90FF" stroke="#000" points="582.2,279.0 590.5,278.2 592.0,281.2 590.5,284.2 586.7,285.0 586.0,287.2 583.0,286.5 581.8,282.7"/>
<polygon fill="#0000FF" stroke="#000" points="591.2,262.5 595.0,261.7 593.5,268.5 592.0,274.5 589.7,273.7 590.2,267.7"/>
<polygon fill="#AFEEEE" stroke="#000" points="587.8,245.2 590.8,244.8 590.8,251.2 588.2,251.2"/>
<polygon fill="#AFEEEE" stroke="#000" points="550.0,291.7 554.5,291.7 555.2,302.2 550.0,303.0"/>
<polygon fill="#1E90FF" stroke="#000" points="556.0,290.2 561.2,289.5 562.0,294.0 560.5,299.2 556.0,303.7 555.7,300.0 556.7,295.5"/>
<polygon fill="#00BFFF" stroke="#000" points="566.5,291.7 569.5,292.5 569.2,297.7 571.0,300.0 570.2,304.5 565.7,303.0 562.0,300.0 564.2,295.5"/>
<polygon fill="#0000FF" stroke="#000" points="558.2,309.7 564.2,306.7 565.7,309.0 568.7,310.5 565.7,312.0 562.0,312.0 559.7,313.5"/>
<polygon fill="#AFEEEE" stroke="#000" points="573.2,313.5 577.7,312.0 580.0,315.0 577.7,318.7 574.7,318.0 572.5,315.7"/>
<polygon fill="#00BFFF" stroke="#000" points="550.0,282.7 551.2,282.7 551.2,285.7 550.0,285.7"/>
<polygon fill="#000000" stroke="none" points="581.8,243.0 583.3,242.7 585.7,249.0 584.2,252.3 583.0,249.0"/>
<polygon fill="#000000" stroke="none" points="585.7,259.5 588.2,261.0 591.2,267.7 591.7,274.5 589.7,274.2 589.0,268.5 586.0,262.5"/>
<polygon fill="#000000" stroke="none" points="591.2,282.0 595.0,285.0 595.7,291.0 592.7,290.2 592.0,286.5"/>
<polygon fill="#000000" stroke="none" points="586.0,297.0 590.5,298.5 591.2,303.0 587.5,302.2"/>
<polygon fill="#000000" stroke="none" points="577.0,258.0 580.0,257.7 582.2,262.5 580.7,264.0 578.5,261.0"/>
<polygon fill="#000000" stroke="none" points="580.0,246.0 581.5,246.0 582.2,250.5 580.7,250.5"/>
<polygon fill="#AFEEEE" stroke="none" points="250.0,339.0 293.0,339.0 291.0,366.0 269.0,365.0 250.0,364.0"/>
<polygon fill="#AFEEEE" stroke="#000" points="312.0,367.0 338.0,367.0 340.0,370.0 344.0,372.0 350.0,369.0 356.0,367.0 362.0,370.0 366.0,369.0 373.0,373.0 375.0,379.0 378.0,387.0 370.0,392.0 366.0,396.0 362.0,400.0 356.0,400.0 350.0,399.0 346.0,396.0 339.0,394.0 338.0,397.0 329.0,397.0 328.0,391.0 315.0,391.0 315.0,380.0 311.0,379.0 311.0,373.0"/>
<polygon fill="#FFFFFF" stroke="#000" points="311.0,373.0 323.0,372.0 324.0,378.0 318.0,380.0 311.0,379.0"/>
<polygon fill="#1E90FF" stroke="#000" points="344.0,378.0 352.0,373.0 358.0,378.0 360.0,383.0 354.0,385.0 348.0,383.0 343.0,381.0"/>
<polygon fill="#00BFFF" stroke="#000" points="349.0,385.0 354.0,385.0 359.0,387.0 360.0,395.0 356.0,400.0 350.0,399.0 346.0,395.0"/>
<polygon fill="#1E90FF" stroke="#000" points="330.0,399.0 338.0,398.0 339.0,394.4 346.0,396.0 350.0,399.0 353.0,404.0 348.0,408.0 344.0,414.0 339.0,414.0 338.0,409.0 332.0,409.0 333.0,404.0"/>
<polygon fill="#AFEEEE" stroke="#000" points="332.0,409.0 338.0,409.0 339.0,414.4 332.0,415.0"/>
<polygon fill="#0000FF" stroke="#000" points="367.0,397.0 376.0,390.0 382.0,391.0 388.0,390.0 392.0,398.0 393.0,402.0 388.0,406.0 378.0,412.0 374.0,405.0"/>
<polygon fill="#00BFFF" stroke="#000" points="350.0,424.0 358.0,423.0 359.0,427.0 354.0,430.0 350.0,428.0"/>
<polygon fill="#00BFFF" stroke="#000" points="338.0,350.0 349.0,348.0 350.0,354.0 349.0,362.0 352.0,366.0 350.0,369.0 344.0,372.0 340.0,370.0 338.0,362.0"/>
<polygon fill="#1E90FF" stroke="#000" points="350.0,350.0 370.0,349.0 374.0,354.0 372.0,362.0 365.0,365.0 358.0,366.0 352.0,366.0 349.0,362.0 350.0,354.0"/>
<polygon fill="#00BFFF" stroke="#000" points="370.0,344.0 380.0,343.0 388.0,346.0 389.0,352.0 395.0,352.0 395.0,356.0 404.0,354.0 405.0,362.0 400.0,364.0 401.0,369.0 397.0,368.0 396.0,364.0 390.0,367.0 386.0,366.0 384.0,375.0 378.0,373.0 373.0,368.0 365.0,365.0 372.0,362.0 374.0,354.0 370.0,349.0"/>
<polygon fill="#FFFFFF" stroke="#000" points="378.0,360.0 383.0,360.0 384.0,366.0 379.0,366.0"/>
<polygon fill="#FFFFFF" stroke="#000" points="383.6,356.0 388.0,355.0 389.0,366.0 386.0,366.0"/>
<polygon fill="#00BFFF" stroke="#000" points="351.0,343.0 359.0,342.0 361.0,348.0 352.0,348.0"/>
<polygon fill="#000000" stroke="none" points="386.0,400.0 389.0,400.0 388.0,404.0 385.0,404.0"/>
<polygon fill="#000000" stroke="none" points="359.0,420.0 365.0,417.6 362.0,422.4 359.0,425.0"/>
<polygon fill="#AFEEEE" stroke="#000" points="250.0,364.0 269.0,365.0 267.6,382.0 259.0,374.0 256.0,370.0"/>
<polygon fill="#0000FF" stroke="#000" points="469.0,338.0 477.0,337.0 480.0,335.0 484.0,335.0 484.0,341.0 480.0,345.0 482.0,350.0 477.0,354.0 474.0,349.0 473.0,344.0"/>
<polygon fill="#0000FF" stroke="#000" points="494.0,335.0 516.0,335.0 517.0,339.0 513.0,344.0 507.0,346.0 504.0,349.0 500.0,346.0 496.0,343.0"/>
<polygon fill="#AFEEEE" stroke="#000" points="480.0,354.0 488.0,353.0 489.0,362.0 481.0,363.0"/>
<polygon fill="#AFEEEE" stroke="#000" points="498.0,350.0 504.0,349.0 507.0,355.0 502.0,357.0 498.0,355.0"/>
<polygon fill="#AFEEEE" stroke="#000" points="510.0,345.0 517.0,344.0 519.0,350.0 516.0,353.0 511.0,351.0"/>
<polygon fill="#1E90FF" stroke="#000" points="513.0,351.0 516.0,350.0 521.0,356.0 518.0,357.0"/>
<polygon fill="#1E90FF" stroke="#000" points="526.0,335.0 536.0,335.0 538.0,340.0 533.0,344.0 530.0,341.0 527.0,338.0"/>
<polygon fill="#00BFFF" stroke="#000" points="540.0,349.0 545.0,350.0 548.0,355.0 545.0,358.0 541.0,354.0"/>
<polygon fill="#AFEEEE" stroke="#000" points="435.0,354.0 445.0,353.0 447.0,368.0 436.0,370.0 435.0,361.0"/>
<polygon fill="#00BFFF" stroke="#000" points="400.0,354.0 404.0,354.0 404.0,363.0 400.0,364.0"/>
<polygon fill="#00BFFF" stroke="#000" points="423.0,382.0 436.0,381.0 438.0,389.0 435.0,393.0 427.0,394.0 424.0,388.0"/>
<polygon fill="#1E90FF" stroke="#000" points="441.0,385.0 445.0,384.0 448.0,389.0 453.0,392.0 454.0,397.0 450.0,399.0 447.0,401.0 442.0,398.0 437.0,396.0 434.0,394.0 438.0,392.0 441.0,389.0"/>
<polygon fill="#1E90FF" stroke="#000" points="449.0,402.0 456.0,404.0 457.0,407.0 452.0,406.0"/>
<polygon fill="#1E90FF" stroke="#000" points="463.0,378.0 467.0,377.0 467.0,386.0 462.4,386.0"/>
<polygon fill="#AFEEEE" stroke="#000" points="473.0,379.0 482.0,378.0 482.0,385.0 475.0,386.0"/>
<polygon fill="#1E90FF" stroke="#000" points="482.0,378.0 490.0,377.0 492.0,382.0 491.0,385.0 482.0,385.0"/>
<polygon fill="#AFEEEE" stroke="#000" points="491.0,377.0 500.0,376.0 504.0,378.0 517.0,379.0 524.0,378.0 536.0,379.0 538.0,385.0 530.0,388.0 528.0,391.0 532.0,395.0 538.0,394.0 536.0,399.0 532.0,399.0 528.0,397.0 522.0,391.0 516.0,386.0 509.0,389.0 506.0,385.0 503.0,389.0 500.0,385.0 496.0,384.0 493.0,383.0 492.0,382.0"/>
<polygon fill="#00BFFF" stroke="#000" points="493.0,385.0 498.0,384.0 503.0,390.0 500.0,393.0 496.0,389.0"/>
<polygon fill="#00BFFF" stroke="#000" points="538.0,374.0 544.0,375.0 548.0,383.0 546.0,388.0 540.0,387.0 538.0,385.0"/>
<polygon fill="#00BFFF" stroke="#000" points="530.0,388.0 538.0,386.0 540.0,390.0 533.0,392.0 529.0,391.0"/>
<polygon fill="#1E90FF" stroke="#000" points="536.0,393.0 543.0,392.0 545.0,397.0 540.0,399.0 536.0,398.0"/>
<polygon fill="#AFEEEE" stroke="#000" points="545.0,389.0 549.0,390.0 554.0,397.0 552.0,401.0 547.0,395.0"/>
<polygon fill="#00BFFF" stroke="#000" points="543.0,399.0 549.0,397.0 553.0,402.0 558.0,409.0 552.0,410.0 546.0,408.0 543.0,404.0"/>
<polygon fill="#0000FF" stroke="#000" points="558.0,401.0 560.0,402.0 560.0,409.0 558.0,408.0"/>
<polygon fill="#1E90FF" stroke="#000" points="534.0,405.0 538.0,404.0 541.0,408.0 543.0,414.0 540.0,417.0 536.0,415.0 533.0,411.0"/>
<polygon fill="#AFEEEE" stroke="#000" points="543.0,409.0 550.0,410.0 553.0,415.0 548.0,417.0 543.0,415.0"/>
<polygon fill="#AFEEEE" stroke="#000" points="538.0,418.0 543.0,417.4 543.6,423.0 540.0,425.0"/>
<polygon fill="#00BFFF" stroke="#000" points="546.0,429.0 550.0,430.0 552.0,434.0 558.0,435.0 560.0,439.0 556.0,441.0 552.0,440.0 549.0,436.0 546.0,434.0"/>
<polygon fill="#0000FF" stroke="#000" points="558.0,425.0 560.0,425.0 560.0,431.0 558.0,430.6"/>
<polygon fill="#000000" stroke="none" points="499.0,392.0 505.0,393.0 505.0,394.6 499.0,394.2"/>
<polygon fill="#000000" stroke="none" points="533.0,413.0 536.0,414.0 538.0,419.0 535.6,418.6"/>
<polygon fill="#000000" stroke="none" points="451.0,393.0 453.6,392.0 454.4,399.0 452.0,399.4"/>
<polygon fill="#000000" stroke="none" points="430.0,402.0 436.0,405.0 443.0,404.0 443.0,406.2 436.0,407.8 430.0,404.0"/>
<polygon fill="#0000FF" stroke="#000" points="500.0,327.0 506.0,325.0 510.0,329.0 513.0,334.0 517.0,337.0 500.0,337.0"/>
<polygon fill="#00BFFF" stroke="#000" points="520.0,316.0 526.0,314.0 528.0,320.0 533.0,322.0 532.0,326.0 525.0,325.0 522.0,321.0"/>
<polygon fill="#00BFFF" stroke="#000" points="537.0,313.0 545.0,312.0 548.0,318.0 543.0,321.0 538.0,319.0"/>
<polygon fill="#AFEEEE" stroke="#000" points="537.0,321.0 548.0,321.0 549.0,329.0 543.0,332.0 537.0,330.0 533.0,327.0"/>
<polygon fill="#1E90FF" stroke="#000" points="526.0,332.0 531.0,330.0 540.0,332.0 539.0,337.0 537.0,342.0 533.0,343.0 531.0,346.0 528.0,340.0"/>
<polygon fill="#00BFFF" stroke="#000" points="549.0,337.0 556.0,333.0 564.0,337.0 559.0,342.0 554.0,347.0 551.0,342.0"/>
<polygon fill="#AFEEEE" stroke="#000" points="573.0,314.0 578.0,312.0 580.0,317.0 577.0,321.0 574.0,319.0"/>
<polygon fill="#0000FF" stroke="#000" points="559.0,310.0 569.0,310.0 566.0,313.0 561.0,312.4"/>
<polygon fill="#0000FF" stroke="#000" points="559.0,425.0 569.0,424.0 569.0,430.0 560.0,430.0"/>
<polygon fill="#AFEEEE" stroke="#000" points="510.0,345.0 517.0,344.0 519.0,350.0 515.0,352.0 511.0,351.0"/>
<polygon fill="#0000FF" stroke="#000" points="559.0,425.0 569.0,423.6 570.0,443.0 568.0,448.0 563.0,449.0 561.0,440.0 560.0,432.0"/>
<polygon fill="#1E90FF" stroke="#000" points="554.0,400.0 559.0,400.0 560.0,406.0 561.0,414.0 558.0,408.0"/>
<polygon fill="#000000" stroke="none" points="536.6,459.2 539.4,459.2 539.4,460.4 536.6,460.4"/>
<polygon fill="#000000" stroke="none" points="547.0,458.4 554.0,456.4 559.0,455.0 565.0,452.4 569.6,448.0 570.4,449.2 565.6,454.0 559.2,456.6 554.0,458.4 547.2,460.0"/>
<polygon fill="#0000FF" stroke="#000" points="126.0,363.5 138.0,369.5 144.0,374.0 163.5,379.4 178.5,384.5 177.0,407.0 174.0,428.0 170.4,449.0 162.0,449.0 156.0,446.0 150.0,441.5 144.0,446.0 141.0,440.0 138.0,437.0 133.5,440.0 129.0,449.0 126.0,446.0 130.5,438.5 123.0,441.5 117.0,447.5 111.0,453.5 103.5,459.5 93.0,465.5 84.0,468.5 72.0,472.4 70.5,470.0 81.0,465.5 90.0,461.0 99.0,455.0 105.0,449.0 100.5,446.0 90.0,446.0 88.5,440.0 82.5,434.0 79.5,428.0 78.0,423.5 82.5,417.5 90.0,413.0 100.5,411.5 102.0,405.5 93.0,404.0 85.5,402.5 79.5,398.0 78.0,393.5 87.0,390.5 96.0,390.5 100.5,395.0 103.5,393.5 100.5,386.0 90.0,378.5 87.0,374.0 99.0,371.0 108.0,366.5 118.5,365.0"/>
<polygon fill="#0000FF" stroke="#000" points="170.4,449.0 177.0,452.0 181.5,459.5 187.5,455.0 193.5,464.0 199.5,473.0 207.0,483.5 207.0,491.0 198.0,492.5 193.5,486.5 189.0,476.0 183.0,468.5 178.5,459.5 172.5,455.0"/>
<polygon fill="#1E90FF" stroke="#000" points="146.4,411.5 153.0,410.0 162.0,413.0 163.5,416.0 156.0,418.4 148.5,416.6"/>
<polygon fill="#0000FF" stroke="#000" points="60.0,404.0 64.5,403.4 72.0,408.5 67.5,409.4 61.5,407.0"/>
<polygon fill="#0000FF" stroke="#000" points="72.0,430.4 76.5,429.5 78.0,434.0 73.5,434.6"/>
<polygon fill="#0000FF" stroke="#000" points="114.0,460.4 120.0,455.0 124.5,453.5 123.6,459.5 118.5,463.4 114.6,464.0"/>
<polygon fill="#0000FF" stroke="#000" points="54.0,477.5 60.0,474.5 66.0,473.0 66.6,475.4 60.0,478.4 54.6,479.6"/>
<polygon fill="#000000" stroke="none" points="28.5,478.1 33.6,477.5 33.6,479.6 28.8,479.9"/>
<polygon fill="#000000" stroke="none" points="50.4,423.5 53.4,425.0 52.8,426.8 50.4,425.0"/>
<polygon fill="#000000" stroke="none" points="90.0,469.4 93.0,469.4 93.0,471.8 90.0,471.8"/>
<polygon fill="#FFFFFF" stroke="#000" points="204.0,425.6 208.5,425.6 210.0,429.5 205.5,430.4"/>
<polygon fill="#000000" stroke="none" points="193.5,429.8 200.4,427.1 201.0,428.6 194.1,431.3"/>
<polygon fill="#1E90FF" stroke="#000" points="222.0,435.5 226.5,434.9 229.5,440.0 223.5,440.6"/>
<polygon fill="#FFFFFF" stroke="#000" points="204.0,426.0 209.0,425.0 210.0,429.0 207.0,431.0 204.0,429.0"/>
<polygon fill="#000000" stroke="none" points="197.0,429.0 200.0,427.0 201.0,428.0 198.0,430.4"/>
<polygon fill="#000000" stroke="none" points="192.6,430.6 193.8,430.6 193.8,431.8 192.6,431.8"/>
<polygon fill="#1E90FF" stroke="#000" points="222.0,436.0 225.0,434.4 227.0,438.0 229.0,440.0 228.0,441.6 223.6,440.0"/>
<polygon fill="#FFFFFF" stroke="#000" points="232.4,443.0 237.0,442.0 238.0,444.4 233.0,445.0"/>
<polygon fill="#FFFFFF" stroke="#000" points="236.0,447.0 238.4,447.0 238.4,449.4 236.0,449.4"/>
<polygon fill="#FFFFFF" stroke="#000" points="239.0,445.0 241.0,447.0 247.0,448.0 249.0,451.0 244.0,452.4 240.0,453.0 239.0,451.6 242.0,450.0 241.0,448.0 239.0,447.0"/>
<polygon fill="#FFFFFF" stroke="#000" points="250.0,457.0 254.0,460.0 259.0,462.0 262.0,468.0 256.0,472.0 251.0,476.4 247.6,474.0 248.0,469.0 246.0,465.0 248.0,461.0"/>
<polygon fill="#0000FF" stroke="#000" points="184.0,460.0 189.0,456.0 193.0,461.0 196.0,466.0 200.0,475.0 206.0,482.0 206.0,488.0 203.0,492.0 195.0,492.0 193.0,486.0 189.0,480.0 185.0,472.0"/>
<polygon fill="#000000" stroke="none" points="189.2,459.2 191.6,460.0 192.4,466.0 190.0,465.2"/>
<polygon fill="#000000" stroke="none" points="194.0,470.0 196.4,470.4 198.0,477.0 195.6,476.0"/>
<polygon fill="#000000" stroke="none" points="198.0,480.0 200.4,480.4 201.6,487.0 199.2,486.0"/>
<polygon fill="#000000" stroke="none" points="755.5,500.0 764.0,498.0 772.0,496.2 778.0,496.0 778.0,499.0 776.0,502.0 768.0,504.5 762.0,507.0 757.5,508.5 756.5,505.0 755.0,503.0"/>
<polygon fill="#AFEEEE" stroke="#000" points="764.0,499.0 772.0,497.2 775.5,497.0 775.5,500.0 773.0,501.5 770.0,501.0 767.0,501.8 764.5,501.0"/>
<polygon fill="#FFFFFF" stroke="#000" points="757.0,501.2 759.5,500.5 759.8,502.5 757.2,503.0"/>
<polygon fill="#FFFFFF" stroke="#000" points="764.0,503.5 766.5,503.0 766.5,504.8 764.2,505.2"/>
<polygon fill="#FFFFFF" stroke="#000" points="758.5,505.0 760.0,504.5 760.0,506.2 758.5,506.5"/>
<polygon fill="#000000" stroke="none" points="747.0,508.0 749.0,508.0 749.0,509.8 747.0,509.8"/>
<polygon fill="#000000" stroke="none" points="752.0,502.8 753.0,502.8 753.0,503.8 752.0,503.8"/>
<polygon fill="#000000" stroke="none" points="780.0,495.2 782.0,495.0 782.0,496.8 780.0,496.8"/>
<polygon fill="#000000" stroke="none" points="783.0,493.5 788.5,492.0 789.0,493.5 784.0,494.8"/>
<polygon fill="#000000" stroke="none" points="788.0,501.0 792.5,499.8 793.0,500.8 789.5,502.8 788.0,502.5"/>
<polygon fill="#000000" stroke="none" points="778.5,498.5 781.5,498.0 781.5,499.5 779.0,499.8"/>
<polygon fill="#FFFFFF" stroke="#000" points="568.8,178.8 571.2,176.9 575.0,177.2 576.9,180.0 575.6,183.1 571.9,184.4 569.0,182.5"/>
<polygon fill="#0000FF" stroke="#000" points="580.0,178.8 583.1,178.5 583.8,182.5 585.6,186.2 586.9,188.8 586.9,193.8 582.5,194.4 578.8,193.1 576.2,190.6 578.8,188.1 580.0,183.8"/>
<polygon fill="#1E90FF" stroke="#000" points="568.1,188.8 572.5,186.2 575.6,187.5 576.2,190.6 578.8,193.1 582.5,194.4 581.2,196.9 577.5,197.5 573.8,196.9 570.0,194.4 568.1,191.9"/>
<polygon fill="#1E90FF" stroke="#000" points="592.5,186.2 595.0,185.0 597.5,186.9 601.9,186.2 602.5,190.6 601.9,195.0 597.5,197.5 593.8,199.4 590.0,200.0 589.4,196.9 593.8,195.0 593.1,190.0"/>
<polygon fill="#1E90FF" stroke="#000" points="560.0,193.1 566.9,192.5 566.2,196.9 567.5,200.0 565.0,203.8 560.0,204.0"/>
<polygon fill="#00BFFF" stroke="#000" points="560.0,204.0 565.0,203.8 568.1,201.2 568.8,206.2 566.2,208.8 560.0,210.6"/>
<polygon fill="#0000FF" stroke="#000" points="616.9,188.1 622.5,185.0 628.1,185.6 629.4,188.8 631.9,195.0 633.1,198.1 630.0,200.0 627.5,202.5 625.0,206.9 623.1,207.5 621.2,203.8 620.6,199.4 622.5,198.1 620.0,193.8 617.5,190.6"/>
<polygon fill="#00BFFF" stroke="#000" points="615.0,194.4 618.8,193.1 621.2,196.9 620.6,199.4 615.6,198.8"/>
<polygon fill="#1E90FF" stroke="#000" points="608.1,195.0 610.6,193.8 612.5,195.0 615.0,196.9 615.0,200.6 610.0,201.2 606.9,199.4"/>
<polygon fill="#00BFFF" stroke="#000" points="618.8,199.4 620.0,200.0 619.4,203.1 617.8,202.5"/>
<polygon fill="#0000FF" stroke="#000" points="608.1,201.2 610.0,201.2 612.5,203.1 615.6,200.0 618.1,202.5 616.9,205.6 615.0,207.5 615.6,210.0 612.5,211.9 610.0,210.0 609.4,206.9 607.5,204.4"/>
<polygon fill="#0000FF" stroke="#000" points="621.2,199.4 625.0,198.1 627.5,202.5 625.0,206.9 623.1,207.5 621.2,203.8"/>
<polygon fill="#00BFFF" stroke="#000" points="604.4,215.6 608.1,211.2 609.4,211.9 605.6,216.9"/>
<polygon fill="#0000FF" stroke="#000" points="598.8,204.4 601.9,203.8 603.1,207.5 604.4,211.2 601.9,213.1 602.5,216.2 603.1,220.0 603.8,223.1 603.1,225.6 603.8,235.0 602.5,240.0 600.0,245.0 582.5,245.0 584.4,240.0 586.9,233.8 589.4,228.8 588.1,225.0 590.0,222.5 586.9,218.1 588.1,214.4 591.2,214.4 593.1,212.5 596.2,211.9 597.5,208.1"/>
<polygon fill="#0000FF" stroke="#000" points="603.1,220.0 607.5,218.1 613.8,215.0 618.8,213.8 618.1,215.0 613.8,217.5 608.8,220.0 603.8,223.1"/>
<polygon fill="#AFEEEE" stroke="#000" points="576.9,213.8 583.1,213.1 583.8,217.5 582.5,221.2 578.8,221.9 576.9,218.1"/>
<polygon fill="#1E90FF" stroke="#000" points="581.9,222.5 584.4,221.2 587.5,223.1 589.4,225.6 586.9,227.5 583.8,226.2"/>
<polygon fill="#00BFFF" stroke="#000" points="565.6,233.8 570.0,231.2 573.8,230.0 575.0,232.5 571.2,233.8 568.8,237.5 565.6,236.9"/>
<polygon fill="#0000FF" stroke="#000" points="567.5,243.1 575.0,241.9 583.8,240.6 582.5,245.0 567.5,245.0"/>
<polygon fill="#00BFFF" stroke="#000" points="623.8,170.0 631.2,170.0 630.0,174.4 627.5,178.1 624.4,175.0"/>
<polygon fill="#000000" stroke="none" points="615.0,182.5 620.0,181.9 620.6,185.6 616.2,186.2"/>
<polygon fill="#000000" stroke="none" points="625.0,177.5 627.5,178.8 626.9,181.9 625.2,181.2"/>
<polygon fill="#00BFFF" stroke="#000" points="393.1,271.9 399.4,270.6 400.6,266.9 403.1,265.6 405.0,266.9 408.8,266.2 410.6,268.1 410.0,273.1 406.9,274.4 407.5,276.9 411.2,278.1 413.8,277.5 413.8,269.4 418.8,268.8 419.4,273.8 421.2,274.4 422.5,277.5 425.0,280.0 425.0,290.6 419.4,291.2 418.8,289.4 413.1,289.4 412.5,291.2 407.5,291.2 406.9,285.6 394.4,285.0 393.8,277.5"/>
<polygon fill="#1E90FF" stroke="#000" points="382.5,264.4 388.1,264.4 388.8,261.2 396.2,260.0 396.9,267.5 399.4,270.6 393.1,271.9 393.1,282.5 387.5,283.1 387.5,283.8 382.5,283.8"/>
<polygon fill="#1E90FF" stroke="#000" points="423.1,268.1 428.1,266.2 430.0,268.1 434.4,266.9 435.6,261.9 439.4,261.9 440.0,266.9 443.8,268.1 446.2,273.1 441.9,275.0 438.1,278.1 435.0,280.0 432.5,281.2 431.2,280.0 425.0,280.0 422.5,277.5 423.1,273.8 421.9,272.5"/>
<polygon fill="#AFEEEE" stroke="#000" points="435.6,253.8 439.4,252.5 442.5,256.2 440.0,260.0 436.9,260.0 435.6,256.9"/>
<polygon fill="#FFFFFF" stroke="#000" points="382.5,256.2 387.5,255.6 388.1,260.0 383.1,260.6"/>
<polygon fill="#FFFFFF" stroke="#000" points="410.6,268.1 413.1,267.5 413.8,269.4 413.8,273.8 410.6,273.1"/>
<polyline fill="none" stroke="#000" points="120.0,101.2 140.0,106.2 175.0,113.8 205.0,120.5 235.0,125.0 260.0,128.0"/>
<polyline fill="none" stroke="#000" points="120.0,101.2 118.8,105.0 102.5,105.5 104.5,117.5 103.0,127.5 105.5,136.2 101.2,148.8 100.0,155.0 97.5,162.5 91.2,170.0 85.0,183.8 83.8,192.5 77.5,210.0 78.8,217.5 80.0,226.2 78.8,233.8 82.5,240.0"/>
<polyline fill="none" stroke="#000" points="102.5,105.5 106.2,110.0 113.8,112.0 118.0,110.5"/>
<polyline fill="none" stroke="#000" points="184.5,229.5 208.0,230.5"/>
<polyline fill="none" stroke="#000" points="100.0,152.5 106.2,140.0"/>
<polyline fill="none" stroke="#000" points="124.5,146.2 137.5,150.0 162.5,152.5 170.0,152.5"/>
<polyline fill="none" stroke="#000" points="170.0,152.5 161.2,175.0 160.0,195.0 157.5,207.5"/>
<polyline fill="none" stroke="#000" points="83.8,192.5 126.2,202.0 157.5,207.5 185.0,212.5 220.0,216.2"/>
<polyline fill="none" stroke="#000" points="222.5,178.0 220.0,216.2 215.5,240.0"/>
<polyline fill="none" stroke="#000" points="222.5,178.0 260.0,183.0"/>
<polyline fill="none" stroke="#000" points="135.0,114.5 140.0,113.8 139.5,107.5"/>
<polyline fill="none" stroke="#000" points="133.8,126.2 137.5,125.0 146.2,120.0 152.5,122.0 154.5,123.8 147.5,127.5 145.0,133.8 140.0,135.0 135.0,133.0 130.0,134.5 126.2,133.0"/>
<polyline fill="none" stroke="#000" points="125.5,138.8 140.0,140.0 141.2,133.8"/>
<polyline fill="none" stroke="#000" points="140.0,140.0 142.5,147.5 150.0,146.2 156.2,141.2 160.0,143.8 162.5,151.2"/>
<polyline fill="none" stroke="#000" points="103.0,127.5 111.2,127.5"/>
<polyline fill="none" stroke="#000" points="105.5,136.2 110.0,138.8"/>
<polyline fill="none" stroke="#000" points="114.5,160.5 116.2,165.0 120.0,166.2 122.5,162.5 125.0,165.0 135.0,167.5 137.5,163.8 138.0,150.5"/>
<polyline fill="none" stroke="#000" points="122.5,165.0 126.2,173.8 135.0,176.2 136.2,168.8"/>
<polyline fill="none" stroke="#000" points="110.0,177.5 135.0,181.2 131.2,190.0 135.0,195.0 133.8,203.8"/>
<polyline fill="none" stroke="#000" points="85.0,183.8 91.2,183.0 95.0,186.2 107.5,182.5 110.0,177.5"/>
<polyline fill="none" stroke="#000" points="107.5,182.5 103.8,197.5"/>
<polyline fill="none" stroke="#000" points="135.0,176.2 138.0,177.5"/>
<polyline fill="none" stroke="#000" points="188.0,168.0 192.5,165.0 197.0,166.2"/>
<polyline fill="none" stroke="#000" points="190.0,150.0 193.8,150.5"/>
<polyline fill="none" stroke="#000" points="182.5,186.2 185.0,200.0 188.8,202.5 187.5,207.5 183.8,208.8 183.0,212.5"/>
<polyline fill="none" stroke="#000" points="192.5,190.0 200.0,185.0 210.0,186.2 212.5,190.0 203.8,192.5 207.5,197.5 200.0,200.0 196.2,192.5 192.5,190.0"/>
<polyline fill="none" stroke="#000" points="205.0,202.5 207.5,210.0 210.0,215.0 212.5,210.0 211.2,203.8 205.0,202.5"/>
<polyline fill="none" stroke="#000" points="203.8,120.5 206.2,127.5 211.2,132.5 212.5,138.8 210.0,140.5"/>
<polyline fill="none" stroke="#000" points="220.0,143.8 222.5,141.2 228.8,141.2 231.2,146.2 230.0,150.0"/>
<polyline fill="none" stroke="#000" points="208.0,232.5 213.0,234.5 260.0,240.0"/>
<polyline fill="none" stroke="#000" points="260.0,128.0 295.0,131.2 335.0,133.8 377.5,135.0 379.5,128.8 382.5,128.8 383.8,136.2 392.5,137.5 400.0,138.8 407.5,142.5 420.0,143.8 432.5,144.5 425.0,150.0 415.0,158.8 407.5,164.5"/>
<polyline fill="none" stroke="#000" points="407.5,164.5 415.0,162.5 422.5,157.5 425.0,162.5 432.5,158.8 440.0,155.0 446.2,151.2 451.2,151.2 446.2,156.2 445.0,161.2 450.0,162.5 460.0,165.0"/>
<polyline fill="none" stroke="#000" points="295.0,131.2 293.8,173.8"/>
<polyline fill="none" stroke="#000" points="292.5,173.8 335.0,174.5 365.0,176.2"/>
<polyline fill="none" stroke="#000" points="260.0,183.0 292.5,185.0"/>
<polyline fill="none" stroke="#000" points="292.5,185.0 290.5,212.5 350.0,215.0 360.0,217.5 365.0,221.2 367.5,230.0 371.2,240.0"/>
<polyline fill="none" stroke="#000" points="361.2,135.0 360.8,145.0 363.8,155.0 365.0,165.0 366.2,176.2 365.0,180.0 368.0,182.5 367.5,213.8 365.0,221.2"/>
<polyline fill="none" stroke="#000" points="367.5,213.8 423.8,215.0"/>
<polyline fill="none" stroke="#000" points="407.5,164.5 408.8,170.0 405.0,177.5 410.0,185.0 415.0,195.0 420.0,202.5 422.5,210.0 423.8,215.0 427.0,222.5 432.5,230.0"/>
<polyline fill="none" stroke="#000" points="432.5,167.5 445.0,172.5 452.5,177.5 457.5,183.0 460.0,185.0"/>
<polyline fill="none" stroke="#000" points="335.0,133.8 333.8,140.0 337.5,141.2 335.0,148.8 333.8,156.2 337.5,156.2 337.5,165.0 327.5,164.5 327.0,173.8"/>
<polyline fill="none" stroke="#000" points="312.5,158.8 316.2,156.2 323.8,155.5 325.0,157.5 333.8,156.2"/>
<polyline fill="none" stroke="#000" points="312.5,158.8 313.8,163.8 320.0,165.0 322.5,170.0 313.8,172.0"/>
<polyline fill="none" stroke="#000" points="353.8,145.0 361.2,145.0 361.2,151.2 353.8,151.2 353.8,145.0"/>
<polyline fill="none" stroke="#000" points="355.0,157.5 370.0,158.0 370.0,165.0 355.0,165.0 355.0,157.5"/>
<polyline fill="none" stroke="#000" points="361.2,148.0 375.0,148.8 373.8,152.5 370.0,151.2"/>
<polyline fill="none" stroke="#000" points="386.2,137.5 387.5,152.5 395.0,157.5 396.2,170.0"/>
<polyline fill="none" stroke="#000" points="400.0,138.8 400.0,165.0 407.5,164.5"/>
<polyline fill="none" stroke="#000" points="411.2,143.8 412.5,160.0"/>
<polyline fill="none" stroke="#000" points="380.0,177.5 390.0,177.5"/>
<polyline fill="none" stroke="#000" points="380.0,177.5 380.0,183.8 390.0,183.0"/>
<polyline fill="none" stroke="#000" points="383.8,197.5 395.0,196.2"/>
<polyline fill="none" stroke="#000" points="383.8,197.5 383.8,207.5 420.0,208.8"/>
<polyline fill="none" stroke="#000" points="397.5,208.8 397.5,225.0 367.5,223.8"/>
<polyline fill="none" stroke="#000" points="356.2,205.0 365.0,203.8 367.5,212.5 360.0,215.0 356.2,210.0 356.2,205.0"/>
<polyline fill="none" stroke="#000" points="403.8,215.0 412.5,216.2 411.2,223.8 402.5,222.5 403.8,215.0"/>
<polyline fill="none" stroke="#000" points="432.5,167.5 432.5,186.2 428.8,186.2"/>
<polyline fill="none" stroke="#000" points="445.0,172.5 445.0,190.0 435.0,190.0 435.0,197.5"/>
<polyline fill="none" stroke="#000" points="445.0,190.0 455.0,190.0 455.0,205.0"/>
<polyline fill="none" stroke="#000" points="443.8,210.0 450.0,213.8"/>
<polyline fill="none" stroke="#000" points="439.5,218.8 448.8,218.8"/>
<polyline fill="none" stroke="#000" points="310.0,213.8 308.8,240.0"/>
<polyline fill="none" stroke="#000" points="330.0,215.0 330.0,226.2 336.2,230.0 347.5,230.0 348.0,215.0"/>
<polyline fill="none" stroke="#000" points="260.0,203.8 270.0,205.0 269.5,217.5 260.0,218.0"/>
<polyline fill="none" stroke="#000" points="260.0,190.0 261.2,200.0"/>
<polyline fill="none" stroke="#000" points="440.0,156.7 444.5,153.0 449.0,150.0 451.2,151.5 447.5,155.2 445.2,160.5 449.0,159.0 455.0,157.5 456.5,162.0 462.5,162.7 468.5,159.0 476.0,157.2 479.0,159.0 485.0,159.7 488.0,160.5 488.7,165.0 494.0,165.7"/>
<polyline fill="none" stroke="#000" points="440.0,170.2 446.0,169.5 452.0,172.5 455.7,179.2 459.5,172.5 464.7,171.0 470.0,168.7 474.5,168.0 479.7,167.7 483.5,168.7 488.7,165.0"/>
<polyline fill="none" stroke="#000" points="455.7,179.2 454.2,184.5 456.5,187.5 458.7,183.0 461.0,177.0 460.2,184.5 458.7,189.7 459.5,195.0 460.2,207.0 461.0,217.5 462.5,229.5"/>
<polyline fill="none" stroke="#000" points="472.2,169.5 470.0,175.5 469.2,180.0 470.0,187.5 467.7,193.5 467.0,201.0 468.5,210.0 470.7,217.5 471.5,223.5 469.2,229.5"/>
<polyline fill="none" stroke="#000" points="472.2,169.5 476.0,168.0 479.7,171.0 483.5,168.7 491.0,172.5 497.0,175.5 498.5,180.0 497.7,189.0 495.5,195.0 500.0,193.5 504.5,192.0 506.7,195.0 508.2,201.0 509.7,207.0 509.7,211.5 506.7,213.0 504.5,217.5 503.0,220.5 505.2,223.5 509.0,225.0"/>
<polyline fill="none" stroke="#000" points="509.0,226.5 515.0,228.0 521.0,223.5 527.0,219.7 533.0,215.2 539.0,211.5 543.5,205.5 545.0,199.5 548.0,195.0 554.0,193.5 560.0,193.8"/>
<polyline fill="none" stroke="#000" points="470.0,193.5 483.5,194.2 489.5,198.0 495.5,195.0"/>
<polyline fill="none" stroke="#000" points="483.5,168.7 482.7,180.0 483.5,194.2"/>
<polyline fill="none" stroke="#000" points="467.7,201.7 479.0,202.5 485.0,201.7 488.0,199.5"/>
<polyline fill="none" stroke="#000" points="479.0,202.5 479.7,210.0 474.5,210.7 475.2,217.5"/>
<polyline fill="none" stroke="#000" points="485.0,201.7 486.5,207.7"/>
<polyline fill="none" stroke="#000" points="491.0,199.5 491.7,206.2 499.2,205.5 500.0,204.0"/>
<polyline fill="none" stroke="#000" points="481.7,221.7 493.2,220.5 494.3,219.3"/>
<polyline fill="none" stroke="#000" points="500.0,219.3 504.5,217.5"/>
<polyline fill="none" stroke="#000" points="471.5,223.5 492.5,222.7 493.2,225.7"/>
<polyline fill="none" stroke="#000" points="469.2,229.5 489.5,228.3 493.2,228.0"/>
<polyline fill="none" stroke="#000" points="502.7,225.0 505.2,223.5"/>
<polyline fill="none" stroke="#000" points="475.2,222.0 475.7,228.7"/>
<polyline fill="none" stroke="#000" points="483.5,221.7 483.8,228.3"/>
<polyline fill="none" stroke="#000" points="474.5,210.7 468.5,210.0"/>
<polyline fill="none" stroke="#000" points="479.7,210.0 485.0,213.7"/>
<polyline fill="none" stroke="#000" points="479.7,234.0 489.5,234.7 489.5,228.3"/>
<polyline fill="none" stroke="#000" points="479.7,234.0 480.5,240.0"/>
<polyline fill="none" stroke="#000" points="471.5,231.0 472.2,240.0"/>
<polyline fill="none" stroke="#000" points="502.7,231.7 506.0,234.0 510.5,233.2 515.0,232.2"/>
<polyline fill="none" stroke="#000" points="510.5,233.2 511.2,240.0"/>
<polyline fill="none" stroke="#000" points="521.7,227.2 530.0,228.0 537.5,228.0"/>
<polyline fill="none" stroke="#000" points="527.0,225.0 530.0,228.0 530.7,234.0 534.8,235.5"/>
<polyline fill="none" stroke="#000" points="533.3,215.2 534.5,228.0 536.0,240.0"/>
<polyline fill="none" stroke="#000" points="542.0,215.2 560.0,213.0"/>
<polyline fill="none" stroke="#000" points="521.0,231.7 521.7,240.0"/>
<polyline fill="none" stroke="#000" points="497.7,228.7 497.0,240.0"/>
<polyline fill="none" stroke="#000" points="528.5,220.5 530.0,228.0"/>
<polyline fill="none" stroke="#000" points="440.0,190.5 455.0,189.7"/>
<polyline fill="none" stroke="#000" points="440.0,198.0 456.5,197.7"/>
<polyline fill="none" stroke="#000" points="444.5,190.5 445.2,220.5"/>
<polyline fill="none" stroke="#000" points="450.5,198.0 449.7,205.5"/>
<polyline fill="none" stroke="#000" points="440.0,220.5 446.0,220.5"/>
<polyline fill="none" stroke="#000" points="454.2,213.0 459.5,213.7"/>
<polyline fill="none" stroke="#000" points="446.0,169.5 446.7,180.0 444.5,190.5"/>
<polyline fill="none" stroke="#000" points="446.7,180.0 454.2,184.5"/>
<polyline fill="none" stroke="#000" points="568.0,180.5 572.5,175.2 575.5,169.2 580.0,165.5 595.0,161.7 613.0,157.2 613.7,154.2 617.5,152.7 619.0,147.5 621.2,140.0 622.0,134.0 623.5,126.5 625.7,120.5 629.5,122.0 634.0,119.3 638.5,119.0 641.5,121.2 643.0,129.5 646.0,138.5 650.5,141.5 653.5,146.0 657.2,149.0 656.8,153.5 653.5,156.5 649.0,159.5 646.0,162.5 643.0,165.5 638.5,167.7 636.2,170.0 632.5,171.5 631.0,173.7 628.0,179.0 627.2,182.7 625.0,185.0 628.0,188.0 631.7,193.2 634.0,196.2 637.0,194.7 639.2,197.0 638.5,200.0"/>
<polyline fill="none" stroke="#000" points="595.0,161.7 596.5,168.5 598.0,173.0 598.7,180.5 601.0,185.0 601.7,186.5"/>
<polyline fill="none" stroke="#000" points="613.0,157.2 611.5,165.5 610.7,171.5 608.5,180.5 609.2,188.0 610.0,192.5"/>
<polyline fill="none" stroke="#000" points="617.5,152.7 618.2,159.5 620.5,167.0 623.5,171.5 625.0,176.0 627.2,182.7"/>
<polyline fill="none" stroke="#000" points="601.7,191.7 610.0,192.2 616.0,191.0 623.5,185.0"/>
<polyline fill="none" stroke="#000" points="596.5,164.0 601.0,162.5 602.5,170.0 600.2,173.7 610.7,171.5"/>
<polyline fill="none" stroke="#000" points="614.5,169.2 616.7,170.0 616.7,180.5 620.5,182.0 622.0,179.0 625.0,176.0"/>
<polyline fill="none" stroke="#000" points="583.7,185.0 590.5,182.0 598.0,180.5"/>
<polyline fill="none" stroke="#000" points="590.5,182.0 592.0,186.5"/>
<polyline fill="none" stroke="#000" points="586.7,194.0 594.2,194.0"/>
<polyline fill="none" stroke="#000" points="568.0,180.5 567.2,188.0"/>
<polyline fill="none" stroke="#000" points="608.5,180.5 598.7,180.5"/>
<polyline fill="none" stroke="#000" points="628.5,184.5 631.5,192.0 636.0,195.0 639.0,196.5 640.5,202.5 637.5,204.7 633.0,204.0 630.0,202.5 627.0,207.0 624.0,210.0 619.5,214.5 612.0,219.0 603.0,223.5"/>
<polyline fill="none" stroke="#000" points="603.0,223.5 603.0,231.0 603.7,237.0 601.5,244.5 599.2,250.5 597.0,255.0 596.2,261.0 594.0,265.5 592.5,270.0"/>
<polyline fill="none" stroke="#000" points="631.8,192.7 636.0,194.7 639.3,196.2 640.5,202.5 637.8,204.9 633.0,204.3"/>
<polyline fill="none" stroke="#000" points="636.0,195.0 639.0,196.8 639.9,202.2 637.5,204.0 633.3,203.7"/>
<polyline fill="none" stroke="#000" points="567.0,209.2 588.0,204.0 592.5,213.7"/>
<polyline fill="none" stroke="#000" points="603.0,192.0 603.7,204.0 601.5,204.0"/>
<polyline fill="none" stroke="#000" points="603.7,201.0 606.7,201.0"/>
<polyline fill="none" stroke="#000" points="614.2,193.5 618.0,186.0"/>
<polyline fill="none" stroke="#000" points="592.5,213.7 590.2,225.0"/>
<polyline fill="none" stroke="#000" points="540.0,216.0 547.5,215.2 548.2,223.5 541.5,225.0"/>
<polyline fill="none" stroke="#000" points="548.2,223.5 556.5,222.0 559.5,217.5 570.0,216.0 577.2,214.2"/>
<polyline fill="none" stroke="#000" points="556.5,222.0 555.7,232.5 547.5,231.7"/>
<polyline fill="none" stroke="#000" points="555.7,232.5 559.5,237.0 566.2,237.0"/>
<polyline fill="none" stroke="#000" points="559.5,223.5 564.0,219.0 570.0,220.5 571.5,225.0 567.0,228.0 562.5,226.5 559.5,223.5"/>
<polyline fill="none" stroke="#000" points="574.5,230.2 577.5,221.2"/>
<polyline fill="none" stroke="#000" points="575.2,232.5 585.0,234.0"/>
<polyline fill="none" stroke="#000" points="540.0,246.7 562.5,244.5 567.7,243.0"/>
<polyline fill="none" stroke="#000" points="549.0,237.7 559.5,237.0"/>
<polyline fill="none" stroke="#000" points="570.0,216.0 568.5,206.2"/>
<polyline fill="none" stroke="#000" points="583.5,219.7 591.7,219.0"/>
<polyline fill="none" stroke="#000" points="562.5,204.0 564.0,209.2"/>
<polyline fill="none" stroke="#000" points="586.5,243.0 599.2,250.5"/>
<polyline fill="none" stroke="#000" points="585.0,247.5 597.0,255.0"/>
<polyline fill="none" stroke="#000" points="591.3,250.5 596.2,261.0"/>
<polyline fill="none" stroke="#000" points="583.5,258.0 594.0,265.5"/>
<polyline fill="none" stroke="#000" points="540.0,255.0 561.7,256.5"/>
<polyline fill="none" stroke="#000" points="546.0,246.7 547.5,270.0"/>
<polyline fill="none" stroke="#000" points="553.5,246.0 554.2,256.5"/>
<polyline fill="none" stroke="#000" points="555.0,264.0 562.5,264.0"/>
<polyline fill="none" stroke="#000" points="156.2,341.2 172.5,352.5 195.0,362.5 204.5,367.0 220.0,368.0 220.5,360.0 240.0,362.5 250.0,363.8 260.0,373.8"/>
<polyline fill="none" stroke="#000" points="120.0,245.0 160.0,302.5"/>
<polyline fill="none" stroke="#000" points="165.0,307.5 166.2,316.2 170.0,320.0 161.2,330.0 158.8,335.0 156.2,341.2"/>
<polyline fill="none" stroke="#000" points="182.5,230.0 177.5,275.0 175.5,282.5 173.8,291.2 167.5,293.8 166.2,305.0 165.0,307.5"/>
<polyline fill="none" stroke="#000" points="175.5,282.5 190.0,284.5 210.0,287.5 230.0,290.0 260.0,293.8"/>
<polyline fill="none" stroke="#000" points="235.0,235.0 230.0,290.0"/>
<polyline fill="none" stroke="#000" points="230.0,290.0 225.0,322.5 221.2,360.0 220.0,368.0"/>
<polyline fill="none" stroke="#000" points="210.0,245.0 207.5,265.0 222.5,268.8 210.0,286.2"/>
<polyline fill="none" stroke="#000" points="177.5,275.0 187.5,277.5 190.0,284.5"/>
<polyline fill="none" stroke="#000" points="235.0,258.8 240.0,263.8 247.5,260.0 252.5,262.5 260.0,265.0"/>
<polyline fill="none" stroke="#000" points="180.0,295.0 190.0,290.0 190.0,284.5"/>
<polyline fill="none" stroke="#000" points="180.0,295.0 178.8,305.0 176.2,322.0"/>
<polyline fill="none" stroke="#000" points="180.0,305.0 187.5,307.5 196.2,317.5 197.5,323.8"/>
<polyline fill="none" stroke="#000" points="255.0,273.8 260.0,274.5"/>
<polyline fill="none" stroke="#000" points="252.5,280.0 253.8,288.8 260.0,289.5"/>
<polyline fill="none" stroke="#000" points="245.0,304.5 245.0,326.2"/>
<polyline fill="none" stroke="#000" points="228.8,290.0 230.0,305.0"/>
<polyline fill="none" stroke="#000" points="206.2,348.8 205.0,360.0"/>
<polyline fill="none" stroke="#000" points="222.5,352.5 221.2,360.0"/>
<polyline fill="none" stroke="#000" points="79.0,225.0 79.0,233.0 82.0,239.0 85.0,247.0 87.0,255.0 90.0,263.0 89.0,271.0 92.0,279.0 96.0,285.0 97.0,291.0 99.0,295.0 97.0,302.0 106.0,305.0 112.0,309.0 118.0,313.0 122.0,318.0 128.0,323.0 129.0,329.0 130.0,336.0 142.0,338.0 159.0,339.4"/>
<polyline fill="none" stroke="#000" points="110.0,300.0 111.0,309.0"/>
<polyline fill="none" stroke="#000" points="118.0,302.0 118.0,313.0"/>
<polyline fill="none" stroke="#000" points="103.0,297.0 106.0,305.0"/>
<polyline fill="none" stroke="#000" points="128.0,315.0 118.0,313.0"/>
<polyline fill="none" stroke="#000" points="130.0,304.0 118.0,302.0"/>
<polyline fill="none" stroke="#000" points="120.0,243.0 119.0,257.0 124.0,264.0"/>
<polyline fill="none" stroke="#000" points="103.0,250.0 108.0,249.0 109.0,257.0 108.0,261.0"/>
<polyline fill="none" stroke="#000" points="108.0,261.0 120.0,262.0 121.0,265.0"/>
<polyline fill="none" stroke="#000" points="113.0,279.0 112.0,286.0"/>
<polyline fill="none" stroke="#000" points="127.0,275.0 130.0,285.0 132.4,292.0"/>
<polyline fill="none" stroke="#000" points="96.0,285.0 105.0,286.0"/>
<polyline fill="none" stroke="#000" points="142.0,327.0 142.0,338.0"/>
<polyline fill="none" stroke="#000" points="161.0,330.0 159.0,339.4"/>
<polyline fill="none" stroke="#000" points="86.0,237.0 85.0,247.0"/>
<polyline fill="none" stroke="#000" points="92.0,241.0 92.0,250.0"/>
<polyline fill="none" stroke="#000" points="250.0,293.0 284.0,296.0 284.0,303.0 280.0,309.0 283.0,313.0 287.0,319.0 269.0,321.0 267.0,331.0 258.0,331.0 250.0,328.0"/>
<polyline fill="none" stroke="#000" points="284.0,296.0 295.0,296.6 293.0,325.0 292.0,345.0"/>
<polyline fill="none" stroke="#000" points="289.0,225.0 288.0,240.0"/>
<polyline fill="none" stroke="#000" points="250.0,237.4 288.0,240.0 309.6,241.4"/>
<polyline fill="none" stroke="#000" points="310.0,225.0 309.6,241.4 309.0,256.0 307.0,296.6"/>
<polyline fill="none" stroke="#000" points="309.0,256.0 378.0,257.0"/>
<polyline fill="none" stroke="#000" points="250.0,293.0 307.0,296.6 387.0,298.0"/>
<polyline fill="none" stroke="#000" points="295.0,296.6 294.4,304.0 328.0,305.0 329.0,313.0 334.0,314.0 340.0,319.0 344.0,320.0 346.0,325.0"/>
<polyline fill="none" stroke="#000" points="329.0,313.0 329.0,333.0 336.0,337.0 344.0,340.0 352.0,343.0"/>
<polyline fill="none" stroke="#000" points="295.0,296.6 293.0,325.0 292.0,345.0"/>
<polyline fill="none" stroke="#000" points="387.0,298.0 388.0,309.0 390.0,319.0 391.0,345.0"/>
<polyline fill="none" stroke="#000" points="368.0,225.0 370.0,233.0 374.0,245.0 378.0,257.0"/>
<polyline fill="none" stroke="#000" points="375.0,245.0 410.0,243.4"/>
<polyline fill="none" stroke="#000" points="295.0,316.0 316.0,317.0 315.6,329.0 304.0,328.6 303.6,323.0 295.0,322.6"/>
<polyline fill="none" stroke="#000" points="303.0,341.0 316.0,341.4 316.0,345.0"/>
<polyline fill="none" stroke="#000" points="350.0,305.0 356.0,304.6 356.0,311.0 350.0,310.6 350.0,305.0"/>
<polyline fill="none" stroke="#000" points="250.0,260.0 256.0,264.0 264.0,263.0"/>
<polyline fill="none" stroke="#000" points="250.0,273.0 254.0,275.0 253.0,285.0 256.0,292.0"/>
<polyline fill="none" stroke="#000" points="254.0,275.0 266.0,272.0 275.0,276.0 276.0,281.0 284.0,285.0 286.0,274.0"/>
<polyline fill="none" stroke="#000" points="293.0,242.0 291.0,255.0"/>
<polyline fill="none" stroke="#000" points="388.0,284.0 410.0,285.0"/>
<polyline fill="none" stroke="#000" points="394.0,293.0 393.0,305.0 388.0,305.0"/>
<polyline fill="none" stroke="#000" points="399.0,285.0 399.0,299.0 408.0,300.0"/>
<polyline fill="none" stroke="#000" points="388.0,293.0 394.0,293.0"/>
<polyline fill="none" stroke="#000" points="402.0,300.0 402.0,315.0 410.0,316.0"/>
<polyline fill="none" stroke="#000" points="390.0,319.0 402.0,315.0"/>
<polyline fill="none" stroke="#000" points="394.0,325.0 410.0,323.0"/>
<polyline fill="none" stroke="#000" points="330.0,225.0 330.0,229.0 344.0,229.4 344.0,225.0"/>
<polyline fill="none" stroke="#000" points="344.0,237.0 353.0,237.4 353.0,246.6 344.0,246.0 344.0,237.0"/>
<polyline fill="none" stroke="#000" points="378.0,257.0 381.0,255.0 383.0,255.0"/>
<polyline fill="none" stroke="#000" points="329.0,313.0 338.0,321.0 341.0,329.0 340.0,337.0 344.0,340.0"/>
<polyline fill="none" stroke="#000" points="360.0,327.0 362.0,337.0 370.0,343.0"/>
<polyline fill="none" stroke="#000" points="374.0,321.0 380.0,323.0 388.0,321.0"/>
<polyline fill="none" stroke="#000" points="341.0,329.0 349.0,331.0"/>
<polyline fill="none" stroke="#000" points="420.0,243.0 422.0,255.0 425.0,260.0 430.0,266.0 437.0,275.0 441.0,283.0 446.0,289.0 448.0,297.0 445.0,303.0 442.0,309.0 439.0,316.0 436.0,325.0 433.0,334.0 430.0,340.0 428.0,345.0"/>
<polyline fill="none" stroke="#000" points="461.0,242.0 462.0,265.0 460.0,277.0 459.0,285.0 460.0,295.0"/>
<polyline fill="none" stroke="#000" points="491.0,225.0 491.0,270.0"/>
<polyline fill="none" stroke="#000" points="448.0,305.0 454.0,302.0 460.0,295.0 468.0,293.0 477.0,285.0 483.0,286.0 488.0,283.0 492.0,282.0 500.0,287.0 508.0,291.0 516.0,292.0 522.0,289.0 528.0,287.0"/>
<polyline fill="none" stroke="#000" points="443.0,317.0 490.0,314.6 520.0,313.0 538.0,310.0 560.0,305.0"/>
<polyline fill="none" stroke="#000" points="400.0,315.0 436.0,316.0"/>
<polyline fill="none" stroke="#000" points="528.0,287.0 532.0,283.0 538.0,279.0 540.0,273.0 544.0,265.0 552.0,259.0 558.0,261.0"/>
<polyline fill="none" stroke="#000" points="520.0,251.0 528.0,253.0 532.0,249.0 530.0,241.0 536.0,241.0"/>
<polyline fill="none" stroke="#000" points="528.0,287.0 532.0,293.0 538.0,300.0"/>
<polyline fill="none" stroke="#000" points="602.5,240.0 601.0,244.5 598.0,247.5 595.0,249.0 597.2,255.0 596.5,261.0 595.0,267.0 592.7,274.5 592.0,279.0 592.0,280.5 595.0,285.0 598.0,289.5 601.0,294.0 601.0,300.0 596.5,304.5 592.0,309.0 590.5,312.0 586.0,310.5 583.0,315.0 580.0,318.0 578.5,323.2 574.0,325.5 569.5,328.5 566.5,330.0"/>
<polyline fill="none" stroke="#000" points="550.0,289.2 568.0,287.2 586.0,285.7 595.0,285.0"/>
<polyline fill="none" stroke="#000" points="568.0,247.5 572.5,252.0 571.0,256.5 576.2,264.0"/>
<polyline fill="none" stroke="#000" points="572.5,252.0 580.0,255.0 583.7,259.5"/>
<polyline fill="none" stroke="#000" points="580.0,269.2 582.2,279.0"/>
<polyline fill="none" stroke="#000" points="564.2,275.2 567.2,276.0"/>
<polyline fill="none" stroke="#000" points="550.0,279.0 556.0,271.5"/>
<polyline fill="none" stroke="#000" points="550.0,267.0 556.7,268.5"/>
<polyline fill="none" stroke="#000" points="561.2,255.0 553.0,256.5 550.0,255.0"/>
<polyline fill="none" stroke="#000" points="553.0,256.5 554.5,264.0 561.2,264.0"/>
<polyline fill="none" stroke="#000" points="577.7,282.0 581.8,282.7"/>
<polyline fill="none" stroke="#000" points="571.0,277.5 568.0,287.2"/>
<polyline fill="none" stroke="#000" points="559.0,277.5 560.5,288.0"/>
<polyline fill="none" stroke="#000" points="562.0,294.0 566.5,291.7"/>
<polyline fill="none" stroke="#000" points="570.2,304.5 568.7,310.5"/>
<polyline fill="none" stroke="#000" points="571.0,300.0 580.0,297.0 586.0,297.0"/>
<polyline fill="none" stroke="#000" points="572.5,289.5 574.0,297.0"/>
<polyline fill="none" stroke="#000" points="580.0,286.5 581.5,295.5 587.5,302.2"/>
<polyline fill="none" stroke="#000" points="565.7,312.0 572.5,315.7"/>
<polyline fill="none" stroke="#000" points="555.2,302.2 558.2,309.7"/>
<polyline fill="none" stroke="#000" points="550.0,315.0 559.0,324.0 566.5,330.0"/>
<polyline fill="none" stroke="#000" points="556.0,318.0 563.5,327.0"/>
<polyline fill="none" stroke="#000" points="550.0,324.0 556.0,330.0"/>
<polyline fill="none" stroke="#000" points="568.7,310.5 574.7,318.0"/>
<polyline fill="none" stroke="#000" points="578.5,303.0 583.0,315.0"/>
<polyline fill="none" stroke="#000" points="250.0,365.0 256.0,370.0 261.0,378.0 267.0,383.0 270.0,392.0 274.0,398.0 282.0,404.0 287.0,408.0 291.0,404.0 293.0,399.0 298.0,397.0 304.0,397.0 310.0,400.0 316.0,408.0 321.0,416.0 325.0,424.0 330.0,432.0 333.0,440.0 336.0,446.0 342.0,450.0 350.0,453.0 358.0,454.0"/>
<polyline fill="none" stroke="#000" points="358.0,454.0 358.0,444.0 356.0,436.0 357.0,430.0 360.0,424.0 366.0,419.0 374.0,415.0 382.0,410.0 390.0,404.0 398.0,400.0 410.0,398.0"/>
<polyline fill="none" stroke="#000" points="293.0,340.0 291.0,366.0 269.0,365.0 250.0,364.0"/>
<polyline fill="none" stroke="#000" points="356.0,374.0 361.0,371.0 365.0,375.0 370.0,378.0 371.0,388.0 366.0,392.0 361.0,390.0 358.0,385.0 363.0,383.0 364.0,380.0 359.0,378.0"/>
<polyline fill="none" stroke="#000" points="365.0,375.0 364.0,380.0"/>
<polyline fill="none" stroke="#000" points="361.0,390.0 363.0,383.0"/>
<polyline fill="none" stroke="#000" points="303.0,342.0 315.0,341.6 315.0,346.0 308.0,349.0 308.0,353.0 303.0,353.0 303.0,342.0"/>
<polyline fill="none" stroke="#000" points="294.0,366.0 299.0,365.6 300.0,360.0 306.0,360.0 305.6,370.0 294.0,371.0 294.0,366.0"/>
<polyline fill="none" stroke="#000" points="305.0,392.0 315.0,391.0"/>
<polyline fill="none" stroke="#000" points="305.0,392.0 310.0,400.0"/>
<polyline fill="none" stroke="#000" points="325.0,355.0 331.0,355.0 332.0,360.0 338.0,362.0"/>
<polyline fill="none" stroke="#000" points="325.0,355.0 325.0,367.0"/>
<polyline fill="none" stroke="#000" points="324.0,421.0 338.0,422.0 338.0,434.0 330.0,432.0"/>
<polyline fill="none" stroke="#000" points="339.0,414.4 338.0,422.0"/>
<polyline fill="none" stroke="#000" points="344.0,414.0 350.0,424.0"/>
<polyline fill="none" stroke="#000" points="353.0,404.0 362.0,400.0"/>
<polyline fill="none" stroke="#000" points="354.0,414.0 360.0,410.0 365.0,413.0 362.0,418.0 355.0,418.0 352.0,416.0 354.0,414.0"/>
<polyline fill="none" stroke="#000" points="344.0,442.0 348.0,441.0 350.0,447.0 354.0,448.0 354.0,452.0"/>
<polyline fill="none" stroke="#000" points="388.0,390.0 398.0,388.0 399.0,380.0 401.0,369.0"/>
<polyline fill="none" stroke="#000" points="398.0,388.0 410.0,390.0"/>
<polyline fill="none" stroke="#000" points="393.0,402.0 398.0,400.0"/>
<polyline fill="none" stroke="#000" points="375.0,379.0 384.0,375.0"/>
<polyline fill="none" stroke="#000" points="378.0,387.0 388.0,390.0"/>
<polyline fill="none" stroke="#000" points="339.0,340.0 338.0,350.0"/>
<polyline fill="none" stroke="#000" points="359.6,425.0 357.2,430.0 356.2,436.0 358.2,444.0 358.4,454.0"/>
<polyline fill="none" stroke="#000" points="365.0,418.0 361.0,423.0 359.0,426.0"/>
<polyline fill="none" stroke="#000" points="400.0,395.0 412.0,396.0 420.0,400.0 426.0,399.0 430.0,403.0 436.0,407.0 442.0,406.0 447.0,403.0 451.0,401.0 457.0,406.0 454.0,405.0 452.0,395.0 455.0,392.0 459.0,393.0 460.0,389.0 468.0,388.0 474.0,386.0 482.0,384.6 490.0,385.0 496.0,389.0 500.0,393.0 505.0,394.0 509.0,389.0 516.0,386.0 522.0,391.0 528.0,397.0 532.0,404.0 534.0,413.0 538.0,419.0 542.0,427.0 546.0,434.0 552.0,440.0 558.0,446.0 560.0,450.0"/>
<polyline fill="none" stroke="#000" points="564.0,335.0 555.0,345.0 549.0,353.0 545.0,361.0 544.0,369.0 547.0,377.0 551.0,387.0 556.0,395.0 560.0,402.0"/>
<polyline fill="none" stroke="#000" points="432.0,335.0 429.0,343.0 430.0,351.0 432.0,359.0 429.0,367.0 425.0,375.0 424.0,382.0"/>
<polyline fill="none" stroke="#000" points="424.0,383.0 441.0,383.0 442.0,388.0"/>
<polyline fill="none" stroke="#000" points="400.0,353.0 430.0,352.0"/>
<polyline fill="none" stroke="#000" points="460.0,335.0 461.0,351.0 462.0,375.0 463.0,387.0"/>
<polyline fill="none" stroke="#000" points="488.0,335.0 494.0,351.0 496.0,365.0 498.0,376.0"/>
<polyline fill="none" stroke="#000" points="468.0,377.0 482.0,378.0 491.0,377.0"/>
<polyline fill="none" stroke="#000" points="498.0,376.0 517.0,379.0 536.0,379.0 538.0,374.0 544.0,375.0"/>
<polyline fill="none" stroke="#000" points="430.0,335.0 460.0,335.0"/>
<polyline fill="none" stroke="#000" points="526.0,335.0 538.0,347.0 545.0,357.0"/>
<polyline fill="none" stroke="#000" points="412.0,353.0 413.0,371.0 415.0,385.0 414.0,396.0"/>
<polyline fill="none" stroke="#000" points="445.0,353.0 460.0,352.0"/>
<polyline fill="none" stroke="#000" points="447.0,368.0 462.0,369.0"/>
<polyline fill="none" stroke="#000" points="448.0,374.0 457.0,373.4 457.6,380.0 448.0,380.6 448.0,374.0"/>
<polyline fill="none" stroke="#000" points="436.0,370.0 437.0,381.0"/>
<polyline fill="none" stroke="#000" points="409.0,371.0 420.0,370.0 421.0,381.0 410.0,382.0 409.0,371.0"/>
<polyline fill="none" stroke="#000" points="404.0,354.0 412.0,353.0"/>
<polyline fill="none" stroke="#000" points="415.0,385.0 423.0,385.0"/>
<polyline fill="none" stroke="#000" points="400.0,380.0 410.0,382.0"/>
<polyline fill="none" stroke="#000" points="462.0,359.0 480.0,360.0"/>
<polyline fill="none" stroke="#000" points="468.0,374.0 471.0,374.0 472.0,386.0"/>
<polyline fill="none" stroke="#000" points="489.0,362.0 496.0,365.0"/>
<polyline fill="none" stroke="#000" points="481.0,363.0 482.0,378.0"/>
<polyline fill="none" stroke="#000" points="500.0,357.0 501.0,367.0 516.0,368.0 517.0,379.0"/>
<polyline fill="none" stroke="#000" points="507.0,355.0 518.0,357.0"/>
<polyline fill="none" stroke="#000" points="504.0,362.0 516.0,361.0 518.0,368.0 508.0,369.0 504.0,362.0"/>
<polyline fill="none" stroke="#000" points="521.0,356.0 528.0,357.0 538.0,347.0"/>
<polyline fill="none" stroke="#000" points="528.0,357.0 530.0,371.0 524.0,378.0"/>
<polyline fill="none" stroke="#000" points="530.0,371.0 544.0,369.0"/>
<polyline fill="none" stroke="#000" points="519.0,350.0 530.0,341.0"/>
<polyline fill="none" stroke="#000" points="549.0,353.0 540.0,349.0"/>
<polyline fill="none" stroke="#000" points="460.0,343.0 469.0,344.0"/>
<polyline fill="none" stroke="#000" points="484.0,341.0 494.0,343.0"/>
<polyline fill="none" stroke="#000" points="540.0,417.0 538.0,418.0"/>
<polyline fill="none" stroke="#000" points="543.6,423.0 546.0,429.0"/>
<polyline fill="none" stroke="#000" points="548.0,417.0 549.0,427.0 558.0,425.0"/>
<polyline fill="none" stroke="#000" points="553.0,415.0 560.0,417.0"/>
<polyline fill="none" stroke="#000" points="592.0,310.0 586.0,313.0 580.0,317.0 577.0,323.0 570.0,327.0 566.0,334.0 560.0,342.0 554.0,348.0 550.0,353.0 547.0,360.0 545.0,368.0"/>
<polyline fill="none" stroke="#000" points="500.0,314.0 520.0,316.0"/>
<polyline fill="none" stroke="#000" points="500.0,320.0 510.0,319.0 520.0,316.0"/>
<polyline fill="none" stroke="#000" points="512.0,310.0 510.0,319.0 513.0,334.0"/>
<polyline fill="none" stroke="#000" points="526.0,314.0 537.0,313.0"/>
<polyline fill="none" stroke="#000" points="533.0,327.0 526.0,332.0"/>
<polyline fill="none" stroke="#000" points="548.0,318.0 560.0,316.0 570.0,327.0"/>
<polyline fill="none" stroke="#000" points="549.0,329.0 560.0,326.0 566.0,334.0"/>
<polyline fill="none" stroke="#000" points="560.0,316.0 559.0,310.0"/>
<polyline fill="none" stroke="#000" points="543.0,332.0 549.0,337.0"/>
<polyline fill="none" stroke="#000" points="540.0,332.0 549.0,337.0"/>
<polyline fill="none" stroke="#000" points="539.0,337.0 551.0,342.0"/>
<polyline fill="none" stroke="#000" points="537.0,342.0 540.0,349.0"/>
<polyline fill="none" stroke="#000" points="545.0,312.0 546.0,310.0"/>
<polyline fill="none" stroke="#000" points="560.0,326.0 556.0,333.0"/>
<polyline fill="none" stroke="#000" points="570.0,318.0 580.0,317.0"/>
<polyline fill="none" stroke="#000" points="564.0,322.0 570.0,318.0 569.0,310.0"/>
<polyline fill="none" stroke="#000" points="520.0,357.0 531.0,346.0"/>
<polyline fill="none" stroke="#000" points="520.0,357.0 526.0,360.0 536.0,358.0 540.0,349.0"/>
<polyline fill="none" stroke="#000" points="526.0,360.0 525.0,370.0 518.0,372.0 517.0,379.0"/>
<polyline fill="none" stroke="#000" points="536.0,358.0 538.0,368.0 545.0,368.0"/>
<polyline fill="none" stroke="#000" points="525.0,370.0 536.0,370.0 538.0,375.0"/>
<polyline fill="none" stroke="#000" points="504.0,362.0 512.0,360.0 516.0,366.0 508.0,370.0 504.0,362.0"/>
<polyline fill="none" stroke="#000" points="500.0,358.0 504.0,362.0"/>
<polyline fill="none" stroke="#000" points="559.0,400.0 564.0,410.0 568.0,418.0 570.0,426.0 570.0,443.0 568.0,448.0 564.0,450.0 560.0,450.0 557.0,445.0 551.0,441.0"/>
<polyline fill="none" stroke="#000" points="544.0,417.0 558.0,418.0 559.0,425.0"/>
<polyline fill="none" stroke="#000" points="549.0,417.0 549.0,425.0 544.0,425.0"/>
<polyline fill="none" stroke="#000" points="554.0,418.0 553.0,425.0 552.0,433.0"/>
<polyline fill="none" stroke="#000" points="560.0,415.0 566.0,416.0"/>
<polyline fill="none" stroke="#000" points="558.0,441.0 560.0,450.0"/>
<polyline fill="none" stroke="#000" points="127.5,425.0 151.5,422.9 153.0,428.0 150.0,437.0 144.0,435.5 138.0,437.0 133.5,440.0 126.0,434.0 127.5,425.0"/>
<polyline fill="none" stroke="#000" points="188.0,458.0 191.0,466.0 190.0,472.0 194.0,480.0 197.0,488.0 196.0,491.6"/>
<polyline fill="none" stroke="#000" points="190.0,460.0 194.0,469.0 198.0,478.0 202.0,486.0 202.0,491.0"/>
<polyline fill="none" stroke="#000" points="186.0,466.0 190.0,468.0 192.0,476.0 196.0,482.0 200.0,490.0"/>
<polyline fill="none" stroke="#000" points="192.0,464.0 195.0,472.0 200.0,480.0 204.0,488.0"/>
<polyline fill="none" stroke="#000" points="189.0,474.0 194.0,474.0"/>
<polyline fill="none" stroke="#000" points="193.0,482.0 200.0,481.0"/>
<polyline fill="none" stroke="#000" points="196.0,487.0 204.0,485.0"/>
<polyline fill="none" stroke="#000" points="254.0,182.0 260.0,190.0 260.0,202.0 256.0,203.0 270.0,204.4 269.0,218.0 254.0,217.0 256.0,203.0"/>
<polyline fill="none" stroke="#000" points="254.0,217.0 253.0,226.0 248.0,228.0"/>
<polyline fill="none" stroke="#000" points="234.0,176.0 239.0,172.0 240.0,168.0 243.0,165.0 242.0,158.0 246.0,157.0 247.0,164.0 253.0,165.0 258.0,161.0 260.0,166.0 254.0,170.0 253.0,174.0 247.0,176.0 250.0,179.0"/>
<polyline fill="none" stroke="#000" points="234.0,176.0 237.0,177.0 240.0,173.0 245.0,171.0 246.0,167.0"/>
<polyline fill="none" stroke="#000" points="200.0,182.0 206.0,184.0 210.0,188.0 212.0,194.0 218.0,196.0 220.0,202.0"/>
<polyline fill="none" stroke="#000" points="200.0,190.0 204.0,192.0 206.0,198.0 212.0,200.0 214.0,206.0 219.0,208.0"/>
<polyline fill="none" stroke="#000" points="204.0,204.0 206.0,210.0 210.0,214.0 209.0,220.0 212.0,224.0"/>
<polyline fill="none" stroke="#000" points="208.0,218.0 214.0,219.0"/>
<polyline fill="none" stroke="#000" points="212.0,182.0 214.0,188.0 220.0,189.0"/>
<polyline fill="none" stroke="#000" points="366.0,180.0 368.0,204.0 356.0,204.0 358.0,210.0 362.0,214.0 365.0,219.0 368.0,226.0 370.0,232.0 372.0,240.0"/>
<polyline fill="none" stroke="#000" points="368.0,208.0 398.0,208.0 398.0,224.0 375.0,224.0 372.0,216.0"/>
<polyline fill="none" stroke="#000" points="383.0,196.0 383.0,208.0"/>
<polyline fill="none" stroke="#000" points="388.0,197.0 394.0,197.0 394.0,203.0 389.0,203.0 388.0,197.0"/>
<polyline fill="none" stroke="#000" points="330.0,215.0 330.0,224.0 334.0,225.0 334.0,231.0 342.0,232.0 343.0,240.0"/>
<polyline fill="none" stroke="#000" points="348.0,217.0 348.0,226.0 344.0,226.0 343.0,232.0"/>
<polyline fill="none" stroke="#000" points="255.0,203.0 270.0,204.0 269.0,218.0 254.0,217.0 255.0,203.0"/>
<polyline fill="none" stroke="#000" points="350.0,209.0 356.0,204.0"/>
<polyline fill="none" stroke="#000" points="398.0,208.0 402.0,200.0 406.0,196.0"/>
<polyline fill="none" stroke="#000" points="398.0,224.0 410.0,222.0"/>
<polyline fill="none" stroke="#000" points="387.0,138.0 388.0,150.0 393.0,156.0 394.0,170.0"/>
<polyline fill="none" stroke="#000" points="399.0,138.0 400.0,166.0"/>
<polyline fill="none" stroke="#000" points="622.5,198.1 627.5,195.0 631.9,195.0"/>
<polyline fill="none" stroke="#000" points="622.5,185.0 625.0,191.2 627.5,195.0"/>
<polyline fill="none" stroke="#000" points="620.0,193.8 625.0,191.2"/>
<polyline fill="none" stroke="#000" points="586.9,233.8 592.5,230.0 603.1,225.6"/>
<polyline fill="none" stroke="#000" points="590.0,222.5 596.2,220.0 603.1,220.0"/>
<polyline fill="none" stroke="#000" points="592.5,230.0 591.2,237.5 584.4,240.0"/>
<polyline fill="none" stroke="#000" points="596.2,220.0 597.5,208.1"/>
<polyline fill="none" stroke="#000" points="591.2,237.5 602.5,240.0"/>
<polyline fill="none" stroke="#000" points="597.5,240.0 596.2,245.0"/>
<polyline fill="none" stroke="#000" points="623.1,210.0 617.5,213.1 610.0,216.2 603.8,219.4"/>
<polyline fill="none" stroke="#000" points="628.1,178.8 628.1,185.6"/>
<polyline fill="none" stroke="#000" points="430.0,268.1 431.2,280.0"/>
<polyline fill="none" stroke="#000" points="434.4,266.9 435.0,280.0"/>
<polyline fill="none" stroke="#000" points="387.5,264.4 388.1,283.1"/>
</svg>
<div id="lt">Annual mean wage</div>
<div class="sw" style="left:373px;top:548px;background:#AFEEEE"></div><div class="lg" style="left:388.8px;top:545px">$48,700 - $72,940</div>
<div class="sw" style="left:373px;top:563px;background:#1E90FF"></div><div class="lg" style="left:388.8px;top:560px">$79,640 - $85,930</div>
<div class="sw" style="left:526px;width:8px;top:548px;background:#00BFFF"></div><div class="lg" style="left:540.8px;top:545px">$73,270 - $79,450</div>
<div class="sw" style="left:526px;width:8px;top:563px;background:#0000FF"></div><div class="lg" style="left:540.8px;top:560px">$86,110 - $125,540</div>
<div id="note">Blank areas indicate data not available.</div>
</body></html>
